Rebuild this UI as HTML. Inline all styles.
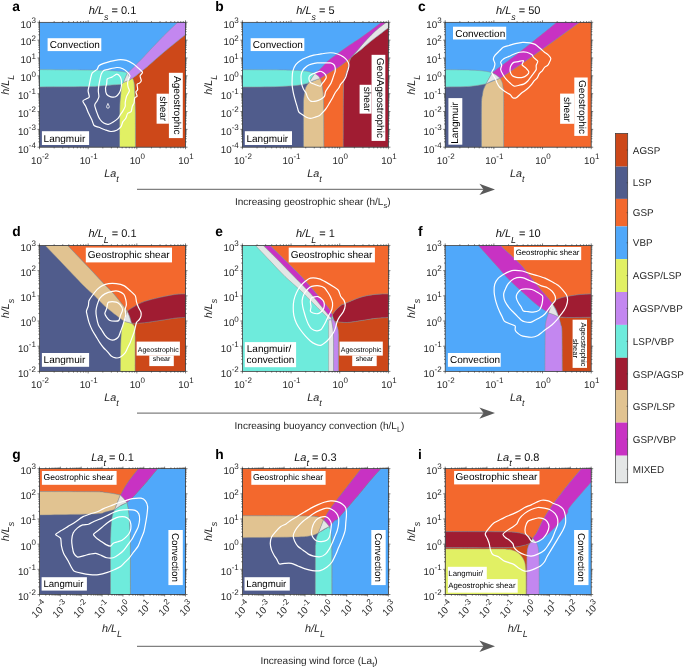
<!DOCTYPE html>
<html><head><meta charset="utf-8"><style>
html,body{margin:0;padding:0;background:#fff;width:685px;height:670px;overflow:hidden}
svg{display:block;font-family:"Liberation Sans",sans-serif;text-rendering:geometricPrecision;will-change:transform}
</style></head><body>
<svg width="685" height="670" viewBox="0 0 685 670">
<defs><clipPath id="c00"><rect x="39.50" y="22.30" width="146.00" height="124.90"/></clipPath><clipPath id="c10"><rect x="242.40" y="22.30" width="146.00" height="124.90"/></clipPath><clipPath id="c20"><rect x="445.20" y="22.30" width="146.00" height="124.90"/></clipPath><clipPath id="c01"><rect x="39.50" y="245.45" width="146.00" height="125.95"/></clipPath><clipPath id="c11"><rect x="242.40" y="245.45" width="146.00" height="125.95"/></clipPath><clipPath id="c21"><rect x="445.20" y="245.45" width="146.00" height="125.95"/></clipPath><clipPath id="c02"><rect x="39.50" y="468.65" width="146.00" height="125.85"/></clipPath><clipPath id="c12"><rect x="242.40" y="468.65" width="146.00" height="125.85"/></clipPath><clipPath id="c22"><rect x="445.20" y="468.65" width="146.00" height="125.85"/></clipPath></defs>
<g clip-path="url(#c00)">
<rect x="39.5" y="22.3" width="146.0" height="124.9" fill="#50A8FA"/>
<path d="M185.50,34.60 C178.63,40.17 171.10,46.12 164.90,51.30 C158.70,56.48 152.33,62.27 148.30,65.70 C144.27,69.13 143.32,69.82 140.70,71.90 C138.08,73.98 135.30,76.10 132.60,78.20 C132.87,78.97 133.13,79.50 133.40,80.50 C133.67,81.50 133.97,81.72 134.20,84.20 C134.43,86.68 134.62,90.77 134.80,95.40 C134.98,100.03 135.20,103.37 135.30,112.00 C135.40,120.63 135.37,135.47 135.40,147.20 L185.50,147.20 L185.50,34.60 Z" fill="#CD4819" stroke="#8c8c8c" stroke-width="0.45" stroke-linejoin="round"/>
<path d="M177.70,22.30 C174.47,25.37 171.05,28.52 168.00,31.50 C164.95,34.48 162.32,37.20 159.40,40.20 C156.48,43.20 153.28,46.53 150.50,49.50 C147.72,52.47 145.28,55.30 142.70,58.00 C140.12,60.70 137.03,63.67 135.00,65.70 C132.97,67.73 131.75,69.03 130.50,70.20 C129.25,71.37 128.50,71.87 127.50,72.70 C128.10,73.97 128.90,75.30 129.30,76.50 C129.70,77.70 129.70,78.77 129.90,79.90 L132.60,78.20 C135.30,76.10 138.08,73.98 140.70,71.90 C143.32,69.82 144.27,69.13 148.30,65.70 C152.33,62.27 160.45,55.08 164.90,51.30 C169.35,47.52 171.57,45.78 175.00,43.00 C178.43,40.22 182.00,37.40 185.50,34.60 L185.50,22.30 L177.70,22.30 Z" fill="#C387F0" stroke="#8c8c8c" stroke-width="0.45" stroke-linejoin="round"/>
<path d="M119.50,147.20 C119.53,135.47 119.50,119.87 119.60,112.00 C119.70,104.13 119.87,103.50 120.10,100.00 C120.33,96.50 120.75,93.60 121.00,91.00 C121.25,88.40 121.40,86.60 121.60,84.40 L123.40,82.40 L129.90,79.90 L132.60,78.20 C132.87,78.97 133.13,79.50 133.40,80.50 C133.67,81.50 133.97,81.72 134.20,84.20 C134.43,86.68 134.62,90.77 134.80,95.40 C134.98,100.03 135.20,103.37 135.30,112.00 C135.40,120.63 135.37,135.47 135.40,147.20 L119.50,147.20 Z" fill="#E1F064" stroke="#8c8c8c" stroke-width="0.45" stroke-linejoin="round"/>
<path d="M39.50,86.90 C56.33,86.77 79.92,86.65 90.00,86.50 C100.08,86.35 96.33,86.27 100.00,86.00 C103.67,85.73 108.40,85.17 112.00,84.90 C115.60,84.63 118.40,84.57 121.60,84.40 C121.40,86.60 121.25,88.40 121.00,91.00 C120.75,93.60 120.33,96.50 120.10,100.00 C119.87,103.50 119.70,104.13 119.60,112.00 C119.50,119.87 119.53,135.47 119.50,147.20 L39.50,147.20 L39.50,86.90 Z" fill="#505C8C" stroke="#8c8c8c" stroke-width="0.45" stroke-linejoin="round"/>
<path d="M39.50,69.60 C59.67,69.80 87.92,70.02 100.00,70.20 C112.08,70.38 108.67,70.52 112.00,70.70 C115.33,70.88 117.92,71.10 120.00,71.30 C122.08,71.50 123.25,71.67 124.50,71.90 C125.75,72.13 126.50,72.43 127.50,72.70 L123.40,82.40 L121.60,84.40 C118.40,84.57 115.60,84.63 112.00,84.90 C108.40,85.17 103.67,85.73 100.00,86.00 C96.33,86.27 100.08,86.35 90.00,86.50 C79.92,86.65 56.33,86.77 39.50,86.90 L39.50,69.60 Z" fill="#6EEBDC" stroke="#8c8c8c" stroke-width="0.45" stroke-linejoin="round"/>
<path d="M127.5,72.7 Q129.5,76 129.9,79.9 L123.4,82.4 Z" fill="#E4E6E6" stroke="#8c8c8c" stroke-width="0.45"/>
<path d="M118.00,59.80 C120.10,59.65 124.46,59.88 126.40,60.40 C128.34,60.92 132.01,63.04 133.50,64.00 C134.99,64.96 137.18,67.06 138.30,68.10 C139.43,69.14 142.28,71.32 142.50,72.30 C142.72,73.28 140.25,74.85 140.10,75.90 C139.95,76.95 141.38,79.80 141.30,80.70 C141.23,81.60 140.03,82.65 139.50,83.10 C138.97,83.55 137.32,83.49 137.10,84.30 C136.88,85.11 137.85,88.64 137.70,89.60 C137.55,90.56 135.97,91.17 135.90,92.00 C135.83,92.83 137.25,95.45 137.10,96.20 C136.95,96.95 135.07,97.17 134.70,98.00 C134.32,98.83 134.40,101.75 134.10,102.80 C133.80,103.85 132.68,105.29 132.30,106.40 C131.93,107.51 131.69,110.81 131.10,111.70 C130.51,112.59 128.26,112.67 127.60,113.50 C126.94,114.33 126.40,117.25 125.80,118.30 C125.20,119.35 123.40,120.85 122.80,121.90 C122.20,122.95 121.75,125.65 121.00,126.70 C120.25,127.75 118.08,129.70 116.80,130.30 C115.52,130.90 112.29,131.57 110.80,131.50 C109.31,131.43 106.39,130.22 104.90,129.70 C103.41,129.17 100.25,127.82 98.90,127.30 C97.55,126.78 95.00,126.47 94.10,125.50 C93.20,124.53 92.45,121.15 91.70,119.50 C90.95,117.85 88.84,113.94 88.10,112.30 C87.36,110.66 86.46,107.81 85.80,106.40 C85.14,104.99 82.66,101.97 82.80,101.00 C82.94,100.03 86.09,99.12 86.90,98.60 C87.71,98.07 89.15,97.77 89.30,96.80 C89.45,95.83 88.10,92.29 88.10,90.80 C88.10,89.31 89.00,86.39 89.30,84.90 C89.60,83.41 90.12,80.40 90.50,78.90 C90.88,77.40 91.47,74.10 92.30,72.90 C93.12,71.70 96.27,70.19 97.10,69.30 C97.92,68.41 98.08,66.54 98.90,65.80 C99.73,65.06 102.36,63.92 103.70,63.40 C105.04,62.88 107.81,62.05 109.60,61.60 C111.39,61.15 115.90,59.95 118.00,59.80 Z" fill="none" stroke="#fff" stroke-width="1.2" stroke-linejoin="round"/>
<path d="M116.80,67.50 C118.60,67.42 121.45,68.10 122.80,68.70 C124.15,69.30 126.70,71.40 127.60,72.30 C128.50,73.20 129.93,74.93 130.00,75.90 C130.07,76.88 128.50,79.12 128.20,80.10 C127.90,81.07 127.60,82.80 127.60,83.70 C127.60,84.60 127.97,86.41 128.20,87.30 C128.42,88.19 129.47,89.91 129.40,90.80 C129.33,91.69 127.97,93.65 127.60,94.40 C127.22,95.15 126.70,95.75 126.40,96.80 C126.10,97.85 125.35,101.60 125.20,102.80 C125.05,104.00 125.50,105.36 125.20,106.40 C124.90,107.44 123.40,110.06 122.80,111.10 C122.20,112.14 121.00,113.80 120.40,114.70 C119.80,115.60 118.90,117.40 118.00,118.30 C117.10,119.20 114.40,121.15 113.20,121.90 C112.00,122.65 109.59,124.15 108.40,124.30 C107.21,124.45 104.74,123.70 103.70,123.10 C102.66,122.50 100.85,120.55 100.10,119.50 C99.35,118.45 98.38,116.49 97.70,114.70 C97.03,112.91 94.78,106.91 94.70,105.20 C94.62,103.49 96.57,102.05 97.10,101.00 C97.62,99.95 98.75,98.08 98.90,96.80 C99.05,95.52 98.30,92.29 98.30,90.80 C98.30,89.31 98.68,86.39 98.90,84.90 C99.12,83.41 99.80,80.25 100.10,78.90 C100.40,77.55 100.85,75.15 101.30,74.10 C101.75,73.05 102.81,71.10 103.70,70.50 C104.59,69.90 106.76,69.67 108.40,69.30 C110.04,68.92 115.00,67.58 116.80,67.50 Z" fill="none" stroke="#fff" stroke-width="1.2" stroke-linejoin="round"/>
<path d="M116.80,74.10 C117.85,74.10 119.80,76.05 120.40,77.10 C121.00,78.15 121.52,81.09 121.60,82.50 C121.67,83.91 121.30,87.06 121.00,88.40 C120.70,89.74 119.88,92.15 119.20,93.20 C118.53,94.25 116.65,96.35 115.60,96.80 C114.55,97.25 111.91,97.10 110.80,96.80 C109.69,96.50 107.36,95.45 106.70,94.40 C106.04,93.35 105.50,89.74 105.50,88.40 C105.50,87.06 106.48,84.89 106.70,83.70 C106.92,82.51 106.64,79.73 107.30,78.90 C107.96,78.08 110.81,77.70 112.00,77.10 C113.19,76.50 115.75,74.10 116.80,74.10 Z" fill="none" stroke="#fff" stroke-width="1.2" stroke-linejoin="round"/>
<path d="M107.9,103.4 L109.3,106.6 Q109.5,108.2 107.9,108.2 Q106.4,108.2 106.6,106.6 Z" fill="none" stroke="#fff" stroke-width="0.8" stroke-linejoin="round"/>
</g>
<rect x="47.60" y="38.20" width="53.70" height="12.90" fill="#fff"/>
<text x="49.80" y="48.40" font-size="10" text-anchor="start" fill="#000">Convection</text>
<rect x="41.90" y="131.20" width="47.20" height="13.80" fill="#fff"/>
<text x="43.60" y="141.60" font-size="10" text-anchor="start" fill="#000">Langmuir</text>
<rect x="168.90" y="72.80" width="13.90" height="65.30" fill="#fff"/>
<rect x="156.60" y="93.70" width="12.30" height="30.00" fill="#fff"/>
<text x="173.90" y="105.30" font-size="10" text-anchor="middle" fill="#000" transform="rotate(90 173.90 105.30)">Ageostrophic</text>
<text x="160.10" y="108.70" font-size="10" text-anchor="middle" fill="#000" transform="rotate(90 160.10 108.70)">shear</text>
<path d="M39.50,147.20v2.0M39.50,22.30v-2.0M54.15,147.20v1.2M54.15,22.30v-1.2M62.72,147.20v1.2M62.72,22.30v-1.2M68.80,147.20v1.2M68.80,22.30v-1.2M73.52,147.20v1.2M73.52,22.30v-1.2M77.37,147.20v1.2M77.37,22.30v-1.2M80.63,147.20v1.2M80.63,22.30v-1.2M83.45,147.20v1.2M83.45,22.30v-1.2M85.94,147.20v1.2M85.94,22.30v-1.2M88.17,147.20v2.0M88.17,22.30v-2.0M102.82,147.20v1.2M102.82,22.30v-1.2M111.39,147.20v1.2M111.39,22.30v-1.2M117.47,147.20v1.2M117.47,22.30v-1.2M122.18,147.20v1.2M122.18,22.30v-1.2M126.04,147.20v1.2M126.04,22.30v-1.2M129.29,147.20v1.2M129.29,22.30v-1.2M132.12,147.20v1.2M132.12,22.30v-1.2M134.61,147.20v1.2M134.61,22.30v-1.2M136.83,147.20v2.0M136.83,22.30v-2.0M151.48,147.20v1.2M151.48,22.30v-1.2M160.05,147.20v1.2M160.05,22.30v-1.2M166.13,147.20v1.2M166.13,22.30v-1.2M170.85,147.20v1.2M170.85,22.30v-1.2M174.70,147.20v1.2M174.70,22.30v-1.2M177.96,147.20v1.2M177.96,22.30v-1.2M180.78,147.20v1.2M180.78,22.30v-1.2M183.27,147.20v1.2M183.27,22.30v-1.2M185.50,147.20v2.0M185.50,22.30v-2.0M39.50,147.20h-2.0M185.50,147.20h2.0M39.50,141.83h-1.2M185.50,141.83h1.2M39.50,138.69h-1.2M185.50,138.69h1.2M39.50,136.46h-1.2M185.50,136.46h1.2M39.50,134.73h-1.2M185.50,134.73h1.2M39.50,133.32h-1.2M185.50,133.32h1.2M39.50,132.12h-1.2M185.50,132.12h1.2M39.50,131.09h-1.2M185.50,131.09h1.2M39.50,130.17h-1.2M185.50,130.17h1.2M39.50,129.36h-2.0M185.50,129.36h2.0M39.50,123.99h-1.2M185.50,123.99h1.2M39.50,120.84h-1.2M185.50,120.84h1.2M39.50,118.61h-1.2M185.50,118.61h1.2M39.50,116.89h-1.2M185.50,116.89h1.2M39.50,115.47h-1.2M185.50,115.47h1.2M39.50,114.28h-1.2M185.50,114.28h1.2M39.50,113.24h-1.2M185.50,113.24h1.2M39.50,112.33h-1.2M185.50,112.33h1.2M39.50,111.51h-2.0M185.50,111.51h2.0M39.50,106.14h-1.2M185.50,106.14h1.2M39.50,103.00h-1.2M185.50,103.00h1.2M39.50,100.77h-1.2M185.50,100.77h1.2M39.50,99.04h-1.2M185.50,99.04h1.2M39.50,97.63h-1.2M185.50,97.63h1.2M39.50,96.44h-1.2M185.50,96.44h1.2M39.50,95.40h-1.2M185.50,95.40h1.2M39.50,94.49h-1.2M185.50,94.49h1.2M39.50,93.67h-2.0M185.50,93.67h2.0M39.50,88.30h-1.2M185.50,88.30h1.2M39.50,85.16h-1.2M185.50,85.16h1.2M39.50,82.93h-1.2M185.50,82.93h1.2M39.50,81.20h-1.2M185.50,81.20h1.2M39.50,79.79h-1.2M185.50,79.79h1.2M39.50,78.59h-1.2M185.50,78.59h1.2M39.50,77.56h-1.2M185.50,77.56h1.2M39.50,76.65h-1.2M185.50,76.65h1.2M39.50,75.83h-2.0M185.50,75.83h2.0M39.50,70.46h-1.2M185.50,70.46h1.2M39.50,67.32h-1.2M185.50,67.32h1.2M39.50,65.09h-1.2M185.50,65.09h1.2M39.50,63.36h-1.2M185.50,63.36h1.2M39.50,61.94h-1.2M185.50,61.94h1.2M39.50,60.75h-1.2M185.50,60.75h1.2M39.50,59.71h-1.2M185.50,59.71h1.2M39.50,58.80h-1.2M185.50,58.80h1.2M39.50,57.99h-2.0M185.50,57.99h2.0M39.50,52.61h-1.2M185.50,52.61h1.2M39.50,49.47h-1.2M185.50,49.47h1.2M39.50,47.24h-1.2M185.50,47.24h1.2M39.50,45.51h-1.2M185.50,45.51h1.2M39.50,44.10h-1.2M185.50,44.10h1.2M39.50,42.91h-1.2M185.50,42.91h1.2M39.50,41.87h-1.2M185.50,41.87h1.2M39.50,40.96h-1.2M185.50,40.96h1.2M39.50,40.14h-2.0M185.50,40.14h2.0M39.50,34.77h-1.2M185.50,34.77h1.2M39.50,31.63h-1.2M185.50,31.63h1.2M39.50,29.40h-1.2M185.50,29.40h1.2M39.50,27.67h-1.2M185.50,27.67h1.2M39.50,26.26h-1.2M185.50,26.26h1.2M39.50,25.06h-1.2M185.50,25.06h1.2M39.50,24.03h-1.2M185.50,24.03h1.2M39.50,23.12h-1.2M185.50,23.12h1.2M39.50,22.30h-2.0M185.50,22.30h2.0" stroke="#262626" stroke-width="0.6" fill="none"/>
<rect x="39.50" y="22.30" width="146.00" height="124.90" fill="none" stroke="#262626" stroke-width="0.7"/>
<text x="17.89" y="152.55" font-size="9.8" fill="#262626">10<tspan font-size="8.00" dy="-4.6">-4</tspan></text>
<text x="17.89" y="134.71" font-size="9.8" fill="#262626">10<tspan font-size="8.00" dy="-4.6">-3</tspan></text>
<text x="17.89" y="116.86" font-size="9.8" fill="#262626">10<tspan font-size="8.00" dy="-4.6">-2</tspan></text>
<text x="17.89" y="99.02" font-size="9.8" fill="#262626">10<tspan font-size="8.00" dy="-4.6">-1</tspan></text>
<text x="20.55" y="81.18" font-size="9.8" fill="#262626">10<tspan font-size="8.00" dy="-4.6">0</tspan></text>
<text x="20.55" y="63.34" font-size="9.8" fill="#262626">10<tspan font-size="8.00" dy="-4.6">1</tspan></text>
<text x="20.55" y="45.49" font-size="9.8" fill="#262626">10<tspan font-size="8.00" dy="-4.6">2</tspan></text>
<text x="20.55" y="27.65" font-size="9.8" fill="#262626">10<tspan font-size="8.00" dy="-4.6">3</tspan></text>
<text x="31.00" y="163.80" font-size="9.8" fill="#262626">10<tspan font-size="8.00" dy="-5.0">-2</tspan></text>
<text x="79.66" y="163.80" font-size="9.8" fill="#262626">10<tspan font-size="8.00" dy="-5.0">-1</tspan></text>
<text x="129.66" y="163.80" font-size="9.8" fill="#262626">10<tspan font-size="8.00" dy="-5.0">0</tspan></text>
<text x="178.33" y="163.80" font-size="9.8" fill="#262626">10<tspan font-size="8.00" dy="-5.0">1</tspan></text>
<text x="111.50" y="176.50" font-size="10.8" font-style="italic" fill="#262626" text-anchor="middle">La<tspan font-size="9" dy="5">t</tspan></text>
<text x="0" y="0" font-size="10.8" font-style="italic" fill="#262626" text-anchor="middle" transform="translate(8.90,84.75) rotate(-90)">h/L<tspan font-size="9" dy="5">L</tspan></text>
<text x="112.50" y="14.20" font-size="11" fill="#111" text-anchor="middle"><tspan font-style="italic">h/L</tspan><tspan font-style="italic" font-size="8.8" dy="5.5">s</tspan><tspan dy="-5.5"> = 0.1</tspan></text>
<text x="12.30" y="11.00" font-size="13.8" font-weight="bold" fill="#000">a</text>
<g clip-path="url(#c10)">
<rect x="242.4" y="22.3" width="146.0" height="124.9" fill="#50A8FA"/>
<path d="M388.40,27.80 C385.60,29.93 383.08,31.85 380.00,34.20 C376.92,36.55 373.08,39.32 369.90,41.90 C366.72,44.48 363.60,47.50 360.90,49.70 C358.20,51.90 355.35,53.78 353.70,55.10 C352.05,56.42 351.90,56.77 351.00,57.60 C350.47,58.90 350.02,59.60 349.40,61.50 C348.78,63.40 348.03,66.48 347.30,69.00 C346.57,71.52 345.65,73.43 345.00,76.60 C344.35,79.77 343.72,76.23 343.40,88.00 C343.08,99.77 343.20,127.47 343.10,147.20 L388.40,147.20 L388.40,27.80 Z" fill="#A01C32" stroke="#8c8c8c" stroke-width="0.45" stroke-linejoin="round"/>
<path d="M386.30,22.30 L388.40,22.30 L388.40,27.80 C385.60,29.93 383.08,31.85 380.00,34.20 C376.92,36.55 373.08,39.32 369.90,41.90 C366.72,44.48 363.60,47.50 360.90,49.70 C358.20,51.90 355.35,53.78 353.70,55.10 C352.05,56.42 351.90,56.77 351.00,57.60 C351.30,57.17 350.75,57.62 351.90,56.30 C353.05,54.98 355.50,52.40 357.90,49.70 C360.30,47.00 363.22,43.38 366.30,40.10 C369.38,36.82 373.07,32.97 376.40,30.00 C379.73,27.03 383.00,24.87 386.30,22.30 Z" fill="#E4E6E6" stroke="#8c8c8c" stroke-width="0.45" stroke-linejoin="round"/>
<path d="M323.80,147.20 C323.70,131.47 323.72,109.72 323.50,100.00 C323.28,90.28 322.82,91.75 322.50,88.90 C322.18,86.05 322.02,84.65 321.60,82.90 C321.18,81.15 320.53,79.90 320.00,78.40 C322.63,76.73 324.58,75.43 327.90,73.40 C331.22,71.37 336.88,68.17 339.90,66.20 C342.92,64.23 344.15,63.03 346.00,61.60 C347.85,60.17 349.33,58.93 351.00,57.60 C350.47,58.90 350.02,59.60 349.40,61.50 C348.78,63.40 348.03,66.48 347.30,69.00 C346.57,71.52 345.65,73.43 345.00,76.60 C344.35,79.77 343.72,76.23 343.40,88.00 C343.08,99.77 343.20,127.47 343.10,147.20 L323.80,147.20 Z" fill="#F3682D" stroke="#8c8c8c" stroke-width="0.45" stroke-linejoin="round"/>
<path d="M314.80,73.50 C316.87,71.73 318.82,70.30 321.00,68.20 C323.18,66.10 324.75,63.62 327.90,60.90 C331.05,58.18 336.22,54.58 339.90,51.90 C343.58,49.22 346.65,47.08 350.00,44.80 C353.35,42.52 356.50,40.63 360.00,38.20 C363.50,35.77 367.43,32.85 371.00,30.20 C374.57,27.55 377.93,24.93 381.40,22.30 L386.30,22.30 C383.00,24.87 379.73,27.03 376.40,30.00 C373.07,32.97 369.38,36.82 366.30,40.10 C363.22,43.38 360.30,47.00 357.90,49.70 C355.50,52.40 353.05,54.98 351.90,56.30 C350.75,57.62 351.30,57.17 351.00,57.60 C349.33,58.93 347.85,60.17 346.00,61.60 C344.15,63.03 342.92,64.23 339.90,66.20 C336.88,68.17 331.22,71.37 327.90,73.40 C324.58,75.43 322.63,76.73 320.00,78.40 C319.17,77.43 318.37,76.32 317.50,75.50 C316.63,74.68 315.70,74.17 314.80,73.50 Z" fill="#C832C3" stroke="#8c8c8c" stroke-width="0.45" stroke-linejoin="round"/>
<path d="M303.40,147.20 C303.40,133.13 303.30,113.53 303.40,105.00 C303.50,96.47 303.75,98.48 304.00,96.00 C304.25,93.52 304.55,91.68 304.90,90.10 C305.25,88.52 305.50,87.70 306.10,86.50 C306.70,85.30 307.70,84.10 308.50,82.90 L320.00,78.40 C320.53,79.90 321.18,81.15 321.60,82.90 C322.02,84.65 322.18,86.05 322.50,88.90 C322.82,91.75 323.28,90.28 323.50,100.00 C323.72,109.72 323.70,131.47 323.80,147.20 L303.40,147.20 Z" fill="#E1C391" stroke="#8c8c8c" stroke-width="0.45" stroke-linejoin="round"/>
<path d="M242.40,87.00 C248.27,86.97 253.73,86.98 260.00,86.90 C266.27,86.82 274.17,86.72 280.00,86.50 C285.83,86.28 291.33,85.92 295.00,85.60 C298.67,85.28 299.75,85.05 302.00,84.60 C304.25,84.15 306.33,83.47 308.50,82.90 C307.70,84.10 306.70,85.30 306.10,86.50 C305.50,87.70 305.25,88.52 304.90,90.10 C304.55,91.68 304.25,93.52 304.00,96.00 C303.75,98.48 303.50,96.47 303.40,105.00 C303.30,113.53 303.40,133.13 303.40,147.20 L242.40,147.20 L242.40,87.00 Z" fill="#505C8C" stroke="#8c8c8c" stroke-width="0.45" stroke-linejoin="round"/>
<path d="M242.40,69.70 C254.93,69.77 271.23,69.80 280.00,69.90 C288.77,70.00 291.17,70.15 295.00,70.30 C298.83,70.45 300.67,70.57 303.00,70.80 C305.33,71.03 307.03,71.25 309.00,71.70 C310.97,72.15 312.87,72.90 314.80,73.50 L308.50,82.90 C306.33,83.47 304.25,84.15 302.00,84.60 C299.75,85.05 298.67,85.28 295.00,85.60 C291.33,85.92 285.83,86.28 280.00,86.50 C274.17,86.72 266.27,86.82 260.00,86.90 C253.73,86.98 248.27,86.97 242.40,87.00 L242.40,69.70 Z" fill="#6EEBDC" stroke="#8c8c8c" stroke-width="0.45" stroke-linejoin="round"/>
<path d="M314.8,73.5 Q318.6,75.4 320,78.4 Q313.8,80.2 308.5,82.9 Z" fill="#E4E6E6" stroke="#8c8c8c" stroke-width="0.45"/>
<path d="M330.39,52.76 C332.49,52.76 335.92,53.44 337.56,53.96 C339.20,54.48 342.34,56.12 343.54,56.95 C344.73,57.77 346.45,59.56 347.12,60.53 C347.79,61.50 348.76,63.67 348.91,64.71 C349.06,65.76 348.54,67.92 348.31,68.89 C348.09,69.86 347.42,71.51 347.12,72.48 C346.82,73.45 346.37,75.61 345.92,76.66 C345.48,77.70 344.21,79.87 343.54,80.84 C342.86,81.81 341.15,83.53 340.55,84.42 C339.95,85.32 339.43,86.96 338.76,88.01 C338.09,89.05 335.92,91.59 335.17,92.78 C334.43,93.98 333.53,96.22 332.78,97.56 C332.04,98.91 330.02,102.19 329.20,103.54 C328.38,104.88 326.96,107.27 326.21,108.31 C325.47,109.36 324.05,111.00 323.23,111.90 C322.41,112.79 320.69,114.81 319.64,115.48 C318.60,116.15 316.06,116.90 314.87,117.27 C313.67,117.65 311.28,118.54 310.09,118.47 C308.89,118.39 306.35,117.20 305.31,116.68 C304.26,116.15 302.55,114.88 301.72,114.29 C300.90,113.69 299.34,112.94 298.74,111.90 C298.14,110.85 297.39,107.42 296.95,105.92 C296.50,104.43 295.60,101.59 295.15,99.95 C294.71,98.31 293.74,94.58 293.36,92.78 C292.99,90.99 292.32,87.41 292.17,85.62 C292.02,83.82 292.09,80.24 292.17,78.45 C292.24,76.66 292.32,73.00 292.76,71.28 C293.21,69.56 294.78,66.05 295.75,64.71 C296.72,63.37 299.19,61.43 300.53,60.53 C301.87,59.63 304.86,58.22 306.50,57.54 C308.15,56.87 311.88,55.60 313.67,55.15 C315.46,54.71 318.75,54.26 320.84,53.96 C322.93,53.66 328.30,52.76 330.39,52.76 Z" fill="none" stroke="#fff" stroke-width="1.2" stroke-linejoin="round"/>
<path d="M317.25,62.92 C318.75,62.77 321.58,62.92 323.23,62.92 C324.87,62.92 329.05,62.70 330.39,62.92 C331.74,63.14 333.38,64.11 333.98,64.71 C334.58,65.31 335.02,66.88 335.17,67.70 C335.32,68.52 335.32,70.39 335.17,71.28 C335.02,72.18 334.28,73.97 333.98,74.87 C333.68,75.76 333.16,77.40 332.78,78.45 C332.41,79.49 331.51,82.18 330.99,83.23 C330.47,84.27 329.27,85.77 328.60,86.81 C327.93,87.86 326.14,90.39 325.62,91.59 C325.09,92.78 325.02,95.40 324.42,96.37 C323.82,97.34 321.88,98.76 320.84,99.35 C319.79,99.95 317.33,100.92 316.06,101.15 C314.79,101.37 311.73,101.59 310.68,101.15 C309.64,100.70 308.29,98.61 307.70,97.56 C307.10,96.52 306.43,93.83 305.91,92.78 C305.38,91.74 304.04,90.25 303.52,89.20 C302.99,88.15 302.02,85.62 301.72,84.42 C301.43,83.23 301.20,80.84 301.13,79.64 C301.05,78.45 300.90,76.06 301.13,74.87 C301.35,73.67 302.17,71.21 302.92,70.09 C303.67,68.97 306.05,66.65 307.10,65.91 C308.15,65.16 310.01,64.49 311.28,64.11 C312.55,63.74 315.76,63.07 317.25,62.92 Z" fill="none" stroke="#fff" stroke-width="1.2" stroke-linejoin="round"/>
<path d="M314.87,73.07 C315.84,72.70 318.60,71.36 319.64,71.28 C320.69,71.21 322.48,72.03 323.23,72.48 C323.97,72.92 325.24,74.19 325.62,74.87 C325.99,75.54 326.36,77.10 326.21,77.85 C326.06,78.60 324.94,80.09 324.42,80.84 C323.90,81.58 322.56,83.15 322.03,83.82 C321.51,84.50 320.91,86.06 320.24,86.21 C319.57,86.36 317.55,85.32 316.66,85.02 C315.76,84.72 313.89,84.20 313.07,83.82 C312.25,83.45 310.61,82.63 310.09,82.03 C309.56,81.44 308.97,79.79 308.89,79.05 C308.82,78.30 309.12,76.66 309.49,76.06 C309.86,75.46 311.21,74.64 311.88,74.27 C312.55,73.89 313.89,73.45 314.87,73.07 Z" fill="none" stroke="#fff" stroke-width="1.2" stroke-linejoin="round"/>
</g>
<rect x="250.65" y="38.19" width="53.69" height="12.87" fill="#fff"/>
<text x="252.85" y="48.36" font-size="10" text-anchor="start" fill="#000">Convection</text>
<rect x="244.80" y="131.20" width="47.20" height="13.80" fill="#fff"/>
<text x="246.50" y="141.60" font-size="10" text-anchor="start" fill="#000">Langmuir</text>
<rect x="371.57" y="54.83" width="13.76" height="86.09" fill="#fff"/>
<rect x="359.59" y="84.79" width="11.98" height="28.84" fill="#fff"/>
<text x="376.90" y="97.88" font-size="10" text-anchor="middle" fill="#000" transform="rotate(90 376.90 97.88)">Geo/Ageostrophic</text>
<text x="363.60" y="99.21" font-size="10" text-anchor="middle" fill="#000" transform="rotate(90 363.60 99.21)">shear</text>
<path d="M242.40,147.20v2.0M242.40,22.30v-2.0M257.05,147.20v1.2M257.05,22.30v-1.2M265.62,147.20v1.2M265.62,22.30v-1.2M271.70,147.20v1.2M271.70,22.30v-1.2M276.42,147.20v1.2M276.42,22.30v-1.2M280.27,147.20v1.2M280.27,22.30v-1.2M283.53,147.20v1.2M283.53,22.30v-1.2M286.35,147.20v1.2M286.35,22.30v-1.2M288.84,147.20v1.2M288.84,22.30v-1.2M291.07,147.20v2.0M291.07,22.30v-2.0M305.72,147.20v1.2M305.72,22.30v-1.2M314.29,147.20v1.2M314.29,22.30v-1.2M320.37,147.20v1.2M320.37,22.30v-1.2M325.08,147.20v1.2M325.08,22.30v-1.2M328.94,147.20v1.2M328.94,22.30v-1.2M332.19,147.20v1.2M332.19,22.30v-1.2M335.02,147.20v1.2M335.02,22.30v-1.2M337.51,147.20v1.2M337.51,22.30v-1.2M339.73,147.20v2.0M339.73,22.30v-2.0M354.38,147.20v1.2M354.38,22.30v-1.2M362.95,147.20v1.2M362.95,22.30v-1.2M369.03,147.20v1.2M369.03,22.30v-1.2M373.75,147.20v1.2M373.75,22.30v-1.2M377.60,147.20v1.2M377.60,22.30v-1.2M380.86,147.20v1.2M380.86,22.30v-1.2M383.68,147.20v1.2M383.68,22.30v-1.2M386.17,147.20v1.2M386.17,22.30v-1.2M388.40,147.20v2.0M388.40,22.30v-2.0M242.40,147.20h-2.0M388.40,147.20h2.0M242.40,141.83h-1.2M388.40,141.83h1.2M242.40,138.69h-1.2M388.40,138.69h1.2M242.40,136.46h-1.2M388.40,136.46h1.2M242.40,134.73h-1.2M388.40,134.73h1.2M242.40,133.32h-1.2M388.40,133.32h1.2M242.40,132.12h-1.2M388.40,132.12h1.2M242.40,131.09h-1.2M388.40,131.09h1.2M242.40,130.17h-1.2M388.40,130.17h1.2M242.40,129.36h-2.0M388.40,129.36h2.0M242.40,123.99h-1.2M388.40,123.99h1.2M242.40,120.84h-1.2M388.40,120.84h1.2M242.40,118.61h-1.2M388.40,118.61h1.2M242.40,116.89h-1.2M388.40,116.89h1.2M242.40,115.47h-1.2M388.40,115.47h1.2M242.40,114.28h-1.2M388.40,114.28h1.2M242.40,113.24h-1.2M388.40,113.24h1.2M242.40,112.33h-1.2M388.40,112.33h1.2M242.40,111.51h-2.0M388.40,111.51h2.0M242.40,106.14h-1.2M388.40,106.14h1.2M242.40,103.00h-1.2M388.40,103.00h1.2M242.40,100.77h-1.2M388.40,100.77h1.2M242.40,99.04h-1.2M388.40,99.04h1.2M242.40,97.63h-1.2M388.40,97.63h1.2M242.40,96.44h-1.2M388.40,96.44h1.2M242.40,95.40h-1.2M388.40,95.40h1.2M242.40,94.49h-1.2M388.40,94.49h1.2M242.40,93.67h-2.0M388.40,93.67h2.0M242.40,88.30h-1.2M388.40,88.30h1.2M242.40,85.16h-1.2M388.40,85.16h1.2M242.40,82.93h-1.2M388.40,82.93h1.2M242.40,81.20h-1.2M388.40,81.20h1.2M242.40,79.79h-1.2M388.40,79.79h1.2M242.40,78.59h-1.2M388.40,78.59h1.2M242.40,77.56h-1.2M388.40,77.56h1.2M242.40,76.65h-1.2M388.40,76.65h1.2M242.40,75.83h-2.0M388.40,75.83h2.0M242.40,70.46h-1.2M388.40,70.46h1.2M242.40,67.32h-1.2M388.40,67.32h1.2M242.40,65.09h-1.2M388.40,65.09h1.2M242.40,63.36h-1.2M388.40,63.36h1.2M242.40,61.94h-1.2M388.40,61.94h1.2M242.40,60.75h-1.2M388.40,60.75h1.2M242.40,59.71h-1.2M388.40,59.71h1.2M242.40,58.80h-1.2M388.40,58.80h1.2M242.40,57.99h-2.0M388.40,57.99h2.0M242.40,52.61h-1.2M388.40,52.61h1.2M242.40,49.47h-1.2M388.40,49.47h1.2M242.40,47.24h-1.2M388.40,47.24h1.2M242.40,45.51h-1.2M388.40,45.51h1.2M242.40,44.10h-1.2M388.40,44.10h1.2M242.40,42.91h-1.2M388.40,42.91h1.2M242.40,41.87h-1.2M388.40,41.87h1.2M242.40,40.96h-1.2M388.40,40.96h1.2M242.40,40.14h-2.0M388.40,40.14h2.0M242.40,34.77h-1.2M388.40,34.77h1.2M242.40,31.63h-1.2M388.40,31.63h1.2M242.40,29.40h-1.2M388.40,29.40h1.2M242.40,27.67h-1.2M388.40,27.67h1.2M242.40,26.26h-1.2M388.40,26.26h1.2M242.40,25.06h-1.2M388.40,25.06h1.2M242.40,24.03h-1.2M388.40,24.03h1.2M242.40,23.12h-1.2M388.40,23.12h1.2M242.40,22.30h-2.0M388.40,22.30h2.0" stroke="#262626" stroke-width="0.6" fill="none"/>
<rect x="242.40" y="22.30" width="146.00" height="124.90" fill="none" stroke="#262626" stroke-width="0.7"/>
<text x="220.79" y="152.55" font-size="9.8" fill="#262626">10<tspan font-size="8.00" dy="-4.6">-4</tspan></text>
<text x="220.79" y="134.71" font-size="9.8" fill="#262626">10<tspan font-size="8.00" dy="-4.6">-3</tspan></text>
<text x="220.79" y="116.86" font-size="9.8" fill="#262626">10<tspan font-size="8.00" dy="-4.6">-2</tspan></text>
<text x="220.79" y="99.02" font-size="9.8" fill="#262626">10<tspan font-size="8.00" dy="-4.6">-1</tspan></text>
<text x="223.45" y="81.18" font-size="9.8" fill="#262626">10<tspan font-size="8.00" dy="-4.6">0</tspan></text>
<text x="223.45" y="63.34" font-size="9.8" fill="#262626">10<tspan font-size="8.00" dy="-4.6">1</tspan></text>
<text x="223.45" y="45.49" font-size="9.8" fill="#262626">10<tspan font-size="8.00" dy="-4.6">2</tspan></text>
<text x="223.45" y="27.65" font-size="9.8" fill="#262626">10<tspan font-size="8.00" dy="-4.6">3</tspan></text>
<text x="233.90" y="163.80" font-size="9.8" fill="#262626">10<tspan font-size="8.00" dy="-5.0">-2</tspan></text>
<text x="282.56" y="163.80" font-size="9.8" fill="#262626">10<tspan font-size="8.00" dy="-5.0">-1</tspan></text>
<text x="332.56" y="163.80" font-size="9.8" fill="#262626">10<tspan font-size="8.00" dy="-5.0">0</tspan></text>
<text x="381.23" y="163.80" font-size="9.8" fill="#262626">10<tspan font-size="8.00" dy="-5.0">1</tspan></text>
<text x="314.40" y="176.50" font-size="10.8" font-style="italic" fill="#262626" text-anchor="middle">La<tspan font-size="9" dy="5">t</tspan></text>
<text x="0" y="0" font-size="10.8" font-style="italic" fill="#262626" text-anchor="middle" transform="translate(211.80,84.75) rotate(-90)">h/L<tspan font-size="9" dy="5">L</tspan></text>
<text x="315.40" y="14.20" font-size="11" fill="#111" text-anchor="middle"><tspan font-style="italic">h/L</tspan><tspan font-style="italic" font-size="8.8" dy="5.5">s</tspan><tspan dy="-5.5"> = 5</tspan></text>
<text x="215.20" y="11.00" font-size="13.8" font-weight="bold" fill="#000">b</text>
<g clip-path="url(#c20)">
<rect x="445.2" y="22.3" width="146.0" height="124.9" fill="#50A8FA"/>
<path d="M503.60,147.20 C503.60,130.13 503.73,106.20 503.60,96.00 C503.47,85.80 503.40,88.95 502.80,86.00 C502.20,83.05 500.93,80.87 500.00,78.30 C504.00,75.63 507.75,73.17 512.00,70.30 C516.25,67.43 519.83,65.05 525.50,61.10 C531.17,57.15 539.58,51.18 546.00,46.60 C552.42,42.02 558.42,37.65 564.00,33.60 C569.58,29.55 574.33,26.07 579.50,22.30 L591.20,22.30 L591.20,147.20 L503.60,147.20 Z" fill="#F3682D" stroke="#8c8c8c" stroke-width="0.45" stroke-linejoin="round"/>
<path d="M492.20,72.70 C495.80,69.97 499.30,67.27 503.00,64.50 C506.70,61.73 509.55,59.82 514.40,56.10 C519.25,52.38 526.83,46.37 532.10,42.20 C537.37,38.03 541.92,34.42 546.00,31.10 C550.08,27.78 553.07,25.23 556.60,22.30 L579.50,22.30 C574.33,26.07 569.58,29.55 564.00,33.60 C558.42,37.65 552.42,42.02 546.00,46.60 C539.58,51.18 531.17,57.15 525.50,61.10 C519.83,65.05 516.25,67.43 512.00,70.30 C507.75,73.17 504.00,75.63 500.00,78.30 C498.83,77.27 497.80,76.13 496.50,75.20 C495.20,74.27 493.63,73.53 492.20,72.70 Z" fill="#C832C3" stroke="#8c8c8c" stroke-width="0.45" stroke-linejoin="round"/>
<path d="M481.40,147.20 C481.40,133.13 481.23,113.75 481.40,105.00 C481.57,96.25 482.03,97.37 482.40,94.70 C482.77,92.03 482.98,90.82 483.60,89.00 C484.22,87.18 485.27,85.53 486.10,83.80 L500.00,78.30 C500.67,79.53 501.53,80.72 502.00,82.00 C502.47,83.28 502.53,83.67 502.80,86.00 C503.07,88.33 503.47,85.80 503.60,96.00 C503.73,106.20 503.60,130.13 503.60,147.20 L481.40,147.20 Z" fill="#E1C391" stroke="#8c8c8c" stroke-width="0.45" stroke-linejoin="round"/>
<path d="M445.20,87.00 C451.80,86.87 460.03,86.82 465.00,86.60 C469.97,86.38 472.33,86.00 475.00,85.70 C477.67,85.40 479.15,85.12 481.00,84.80 C482.85,84.48 484.40,84.13 486.10,83.80 C485.27,85.53 484.22,87.18 483.60,89.00 C482.98,90.82 482.77,92.03 482.40,94.70 C482.03,97.37 481.57,96.25 481.40,105.00 C481.23,113.75 481.40,133.13 481.40,147.20 L445.20,147.20 L445.20,87.00 Z" fill="#505C8C" stroke="#8c8c8c" stroke-width="0.45" stroke-linejoin="round"/>
<path d="M445.20,69.70 C451.80,69.77 460.03,69.80 465.00,69.90 C469.97,70.00 472.00,70.13 475.00,70.30 C478.00,70.47 480.83,70.67 483.00,70.90 C485.17,71.13 486.47,71.40 488.00,71.70 C489.53,72.00 490.80,72.37 492.20,72.70 L486.10,83.80 C484.40,84.13 482.85,84.48 481.00,84.80 C479.15,85.12 477.67,85.40 475.00,85.70 C472.33,86.00 469.97,86.38 465.00,86.60 C460.03,86.82 451.80,86.87 445.20,87.00 L445.20,69.70 Z" fill="#6EEBDC" stroke="#8c8c8c" stroke-width="0.45" stroke-linejoin="round"/>
<path d="M492.2,72.7 Q497,75 500,78.3 Q492.5,80.2 486.1,83.8 Z" fill="#E4E6E6" stroke="#8c8c8c" stroke-width="0.45"/>
<path d="M522.61,42.31 C524.44,42.22 528.36,42.57 529.93,42.84 C531.49,43.10 533.85,43.69 535.15,44.40 C536.46,45.12 539.20,47.60 540.38,48.58 C541.55,49.56 543.58,51.46 544.55,52.24 C545.53,53.02 547.43,54.07 548.21,54.85 C549.00,55.64 550.69,57.53 550.82,58.51 C550.95,59.49 549.65,61.84 549.26,62.69 C548.86,63.54 548.28,64.71 547.69,65.30 C547.10,65.89 545.21,66.74 544.55,67.39 C543.90,68.04 543.12,69.74 542.47,70.52 C541.81,71.31 539.98,72.74 539.33,73.66 C538.68,74.57 537.89,76.92 537.24,77.84 C536.59,78.75 534.89,80.06 534.11,80.97 C533.32,81.89 531.89,84.11 530.97,85.15 C530.06,86.20 527.97,88.35 526.79,89.33 C525.62,90.31 522.87,91.94 521.57,92.99 C520.26,94.03 517.45,97.10 516.34,97.69 C515.23,98.28 513.47,98.08 512.69,97.69 C511.90,97.30 511.06,95.34 510.08,94.55 C509.10,93.77 506.16,92.33 504.85,91.42 C503.55,90.51 500.61,88.29 499.63,87.24 C498.65,86.20 497.54,84.11 497.02,83.06 C496.49,82.02 496.10,80.19 495.45,78.88 C494.80,77.58 491.99,73.92 491.79,72.61 C491.60,71.31 493.49,69.54 493.88,68.43 C494.27,67.32 494.99,64.91 494.93,63.73 C494.86,62.56 493.36,60.08 493.36,59.03 C493.36,57.99 494.21,56.35 494.93,55.37 C495.64,54.39 498.06,52.20 499.11,51.19 C500.15,50.19 502.04,48.05 503.28,47.33 C504.53,46.61 507.53,45.92 509.03,45.45 C510.53,44.98 513.60,43.96 515.30,43.57 C517.00,43.18 520.79,42.41 522.61,42.31 Z" fill="none" stroke="#fff" stroke-width="1.2" stroke-linejoin="round"/>
<path d="M519.48,52.24 C521.05,52.02 525.23,51.91 526.79,52.24 C528.36,52.57 531.17,54.20 532.02,54.85 C532.87,55.50 532.87,56.68 533.58,57.46 C534.30,58.25 537.44,60.14 537.76,61.12 C538.09,62.10 536.39,64.26 536.20,65.30 C536.00,66.34 536.46,68.56 536.20,69.48 C535.94,70.39 534.76,71.70 534.11,72.61 C533.45,73.53 531.76,75.75 530.97,76.79 C530.19,77.84 528.75,80.06 527.84,80.97 C526.92,81.89 524.70,83.58 523.66,84.11 C522.61,84.63 520.65,84.89 519.48,85.15 C518.30,85.41 515.43,86.46 514.26,86.20 C513.08,85.94 511.12,83.98 510.08,83.06 C509.03,82.15 506.81,79.99 505.90,78.88 C504.98,77.77 503.42,75.36 502.76,74.18 C502.11,73.01 500.80,70.59 500.67,69.48 C500.54,68.37 501.72,66.21 501.72,65.30 C501.72,64.39 500.41,62.98 500.67,62.17 C500.93,61.36 502.76,59.54 503.81,58.82 C504.85,58.10 507.72,57.02 509.03,56.42 C510.34,55.82 512.95,54.54 514.26,54.02 C515.56,53.49 517.91,52.46 519.48,52.24 Z" fill="none" stroke="#fff" stroke-width="1.2" stroke-linejoin="round"/>
<path d="M513.73,62.37 C514.58,62.02 517.22,61.87 518.43,61.64 C519.65,61.42 522.99,60.21 523.45,60.60 C523.91,60.99 521.80,63.86 522.09,64.78 C522.38,65.69 524.90,67.00 525.75,67.91 C526.60,68.83 528.75,71.18 528.88,72.09 C529.01,73.01 527.58,74.57 526.79,75.23 C526.01,75.88 523.92,77.05 522.61,77.32 C521.31,77.58 517.62,77.51 516.34,77.32 C515.06,77.12 513.13,76.44 512.37,75.75 C511.62,75.06 510.55,72.82 510.28,71.78 C510.02,70.73 510.11,68.30 510.28,67.39 C510.45,66.48 511.21,65.09 511.64,64.46 C512.07,63.84 512.88,62.73 513.73,62.37 Z" fill="none" stroke="#fff" stroke-width="1.2" stroke-linejoin="round"/>
</g>
<rect x="453.00" y="26.70" width="53.20" height="12.80" fill="#fff"/>
<text x="455.20" y="37.00" font-size="10" text-anchor="start" fill="#000">Convection</text>
<rect x="448.40" y="98.10" width="13.90" height="46.60" fill="#fff"/>
<text x="457.60" y="122.90" font-size="10" text-anchor="middle" fill="#000" transform="rotate(-90 457.60 122.90)">Langmuir</text>
<rect x="574.30" y="77.50" width="13.40" height="58.40" fill="#fff"/>
<rect x="560.10" y="93.60" width="14.40" height="30.20" fill="#fff"/>
<text x="579.30" y="107.00" font-size="10" text-anchor="middle" fill="#000" transform="rotate(90 579.30 107.00)">Geostrophic</text>
<text x="564.20" y="109.40" font-size="10" text-anchor="middle" fill="#000" transform="rotate(90 564.20 109.40)">shear</text>
<path d="M445.20,147.20v2.0M445.20,22.30v-2.0M459.85,147.20v1.2M459.85,22.30v-1.2M468.42,147.20v1.2M468.42,22.30v-1.2M474.50,147.20v1.2M474.50,22.30v-1.2M479.22,147.20v1.2M479.22,22.30v-1.2M483.07,147.20v1.2M483.07,22.30v-1.2M486.33,147.20v1.2M486.33,22.30v-1.2M489.15,147.20v1.2M489.15,22.30v-1.2M491.64,147.20v1.2M491.64,22.30v-1.2M493.87,147.20v2.0M493.87,22.30v-2.0M508.52,147.20v1.2M508.52,22.30v-1.2M517.09,147.20v1.2M517.09,22.30v-1.2M523.17,147.20v1.2M523.17,22.30v-1.2M527.88,147.20v1.2M527.88,22.30v-1.2M531.74,147.20v1.2M531.74,22.30v-1.2M534.99,147.20v1.2M534.99,22.30v-1.2M537.82,147.20v1.2M537.82,22.30v-1.2M540.31,147.20v1.2M540.31,22.30v-1.2M542.53,147.20v2.0M542.53,22.30v-2.0M557.18,147.20v1.2M557.18,22.30v-1.2M565.75,147.20v1.2M565.75,22.30v-1.2M571.83,147.20v1.2M571.83,22.30v-1.2M576.55,147.20v1.2M576.55,22.30v-1.2M580.40,147.20v1.2M580.40,22.30v-1.2M583.66,147.20v1.2M583.66,22.30v-1.2M586.48,147.20v1.2M586.48,22.30v-1.2M588.97,147.20v1.2M588.97,22.30v-1.2M591.20,147.20v2.0M591.20,22.30v-2.0M445.20,147.20h-2.0M591.20,147.20h2.0M445.20,141.83h-1.2M591.20,141.83h1.2M445.20,138.69h-1.2M591.20,138.69h1.2M445.20,136.46h-1.2M591.20,136.46h1.2M445.20,134.73h-1.2M591.20,134.73h1.2M445.20,133.32h-1.2M591.20,133.32h1.2M445.20,132.12h-1.2M591.20,132.12h1.2M445.20,131.09h-1.2M591.20,131.09h1.2M445.20,130.17h-1.2M591.20,130.17h1.2M445.20,129.36h-2.0M591.20,129.36h2.0M445.20,123.99h-1.2M591.20,123.99h1.2M445.20,120.84h-1.2M591.20,120.84h1.2M445.20,118.61h-1.2M591.20,118.61h1.2M445.20,116.89h-1.2M591.20,116.89h1.2M445.20,115.47h-1.2M591.20,115.47h1.2M445.20,114.28h-1.2M591.20,114.28h1.2M445.20,113.24h-1.2M591.20,113.24h1.2M445.20,112.33h-1.2M591.20,112.33h1.2M445.20,111.51h-2.0M591.20,111.51h2.0M445.20,106.14h-1.2M591.20,106.14h1.2M445.20,103.00h-1.2M591.20,103.00h1.2M445.20,100.77h-1.2M591.20,100.77h1.2M445.20,99.04h-1.2M591.20,99.04h1.2M445.20,97.63h-1.2M591.20,97.63h1.2M445.20,96.44h-1.2M591.20,96.44h1.2M445.20,95.40h-1.2M591.20,95.40h1.2M445.20,94.49h-1.2M591.20,94.49h1.2M445.20,93.67h-2.0M591.20,93.67h2.0M445.20,88.30h-1.2M591.20,88.30h1.2M445.20,85.16h-1.2M591.20,85.16h1.2M445.20,82.93h-1.2M591.20,82.93h1.2M445.20,81.20h-1.2M591.20,81.20h1.2M445.20,79.79h-1.2M591.20,79.79h1.2M445.20,78.59h-1.2M591.20,78.59h1.2M445.20,77.56h-1.2M591.20,77.56h1.2M445.20,76.65h-1.2M591.20,76.65h1.2M445.20,75.83h-2.0M591.20,75.83h2.0M445.20,70.46h-1.2M591.20,70.46h1.2M445.20,67.32h-1.2M591.20,67.32h1.2M445.20,65.09h-1.2M591.20,65.09h1.2M445.20,63.36h-1.2M591.20,63.36h1.2M445.20,61.94h-1.2M591.20,61.94h1.2M445.20,60.75h-1.2M591.20,60.75h1.2M445.20,59.71h-1.2M591.20,59.71h1.2M445.20,58.80h-1.2M591.20,58.80h1.2M445.20,57.99h-2.0M591.20,57.99h2.0M445.20,52.61h-1.2M591.20,52.61h1.2M445.20,49.47h-1.2M591.20,49.47h1.2M445.20,47.24h-1.2M591.20,47.24h1.2M445.20,45.51h-1.2M591.20,45.51h1.2M445.20,44.10h-1.2M591.20,44.10h1.2M445.20,42.91h-1.2M591.20,42.91h1.2M445.20,41.87h-1.2M591.20,41.87h1.2M445.20,40.96h-1.2M591.20,40.96h1.2M445.20,40.14h-2.0M591.20,40.14h2.0M445.20,34.77h-1.2M591.20,34.77h1.2M445.20,31.63h-1.2M591.20,31.63h1.2M445.20,29.40h-1.2M591.20,29.40h1.2M445.20,27.67h-1.2M591.20,27.67h1.2M445.20,26.26h-1.2M591.20,26.26h1.2M445.20,25.06h-1.2M591.20,25.06h1.2M445.20,24.03h-1.2M591.20,24.03h1.2M445.20,23.12h-1.2M591.20,23.12h1.2M445.20,22.30h-2.0M591.20,22.30h2.0" stroke="#262626" stroke-width="0.6" fill="none"/>
<rect x="445.20" y="22.30" width="146.00" height="124.90" fill="none" stroke="#262626" stroke-width="0.7"/>
<text x="423.59" y="152.55" font-size="9.8" fill="#262626">10<tspan font-size="8.00" dy="-4.6">-4</tspan></text>
<text x="423.59" y="134.71" font-size="9.8" fill="#262626">10<tspan font-size="8.00" dy="-4.6">-3</tspan></text>
<text x="423.59" y="116.86" font-size="9.8" fill="#262626">10<tspan font-size="8.00" dy="-4.6">-2</tspan></text>
<text x="423.59" y="99.02" font-size="9.8" fill="#262626">10<tspan font-size="8.00" dy="-4.6">-1</tspan></text>
<text x="426.25" y="81.18" font-size="9.8" fill="#262626">10<tspan font-size="8.00" dy="-4.6">0</tspan></text>
<text x="426.25" y="63.34" font-size="9.8" fill="#262626">10<tspan font-size="8.00" dy="-4.6">1</tspan></text>
<text x="426.25" y="45.49" font-size="9.8" fill="#262626">10<tspan font-size="8.00" dy="-4.6">2</tspan></text>
<text x="426.25" y="27.65" font-size="9.8" fill="#262626">10<tspan font-size="8.00" dy="-4.6">3</tspan></text>
<text x="436.70" y="163.80" font-size="9.8" fill="#262626">10<tspan font-size="8.00" dy="-5.0">-2</tspan></text>
<text x="485.36" y="163.80" font-size="9.8" fill="#262626">10<tspan font-size="8.00" dy="-5.0">-1</tspan></text>
<text x="535.36" y="163.80" font-size="9.8" fill="#262626">10<tspan font-size="8.00" dy="-5.0">0</tspan></text>
<text x="584.03" y="163.80" font-size="9.8" fill="#262626">10<tspan font-size="8.00" dy="-5.0">1</tspan></text>
<text x="517.20" y="176.50" font-size="10.8" font-style="italic" fill="#262626" text-anchor="middle">La<tspan font-size="9" dy="5">t</tspan></text>
<text x="0" y="0" font-size="10.8" font-style="italic" fill="#262626" text-anchor="middle" transform="translate(414.60,84.75) rotate(-90)">h/L<tspan font-size="9" dy="5">L</tspan></text>
<text x="518.20" y="14.20" font-size="11" fill="#111" text-anchor="middle"><tspan font-style="italic">h/L</tspan><tspan font-style="italic" font-size="8.8" dy="5.5">s</tspan><tspan dy="-5.5"> = 50</tspan></text>
<text x="418.00" y="11.00" font-size="13.8" font-weight="bold" fill="#000">c</text>
<g clip-path="url(#c01)">
<rect x="39.5" y="245.45" width="146.0" height="125.95" fill="#505C8C"/>
<path d="M67.60,245.45 L185.50,245.45 L185.50,294.00 C182.33,294.13 180.08,293.87 176.00,294.40 C171.92,294.93 166.27,296.00 161.00,297.20 C155.73,298.40 149.02,299.93 144.40,301.60 C139.78,303.27 136.15,305.60 133.30,307.20 C130.45,308.80 129.30,309.87 127.30,311.20 C125.97,309.40 124.75,307.70 123.30,305.80 C121.85,303.90 120.50,302.15 118.60,299.80 C116.70,297.45 114.15,294.17 111.90,291.70 C109.65,289.23 109.38,289.45 105.10,285.00 C100.82,280.55 92.45,271.59 86.20,265.00 C79.95,258.41 73.80,251.97 67.60,245.45 Z" fill="#F3682D" stroke="#8c8c8c" stroke-width="0.45" stroke-linejoin="round"/>
<path d="M135.00,371.40 C135.00,358.27 135.13,339.57 135.00,332.00 C134.87,324.43 134.78,327.45 134.20,326.00 C133.62,324.55 132.40,324.20 131.50,323.30 C135.80,323.10 139.48,323.20 144.40,322.70 C149.32,322.20 155.73,321.08 161.00,320.30 C166.27,319.52 171.92,318.48 176.00,318.00 C180.08,317.52 182.33,317.60 185.50,317.40 L185.50,371.40 L135.00,371.40 Z" fill="#CD4819" stroke="#8c8c8c" stroke-width="0.45" stroke-linejoin="round"/>
<path d="M127.30,311.20 C129.30,309.87 130.45,308.80 133.30,307.20 C136.15,305.60 139.78,303.27 144.40,301.60 C149.02,299.93 155.73,298.40 161.00,297.20 C166.27,296.00 171.92,294.93 176.00,294.40 C180.08,293.87 182.33,294.13 185.50,294.00 L185.50,317.40 C182.33,317.60 180.08,317.52 176.00,318.00 C171.92,318.48 166.27,319.52 161.00,320.30 C155.73,321.08 149.32,322.20 144.40,322.70 C139.48,323.20 135.80,323.10 131.50,323.30 C130.93,321.20 130.50,319.02 129.80,317.00 C129.10,314.98 128.13,313.13 127.30,311.20 Z" fill="#A01C32" stroke="#8c8c8c" stroke-width="0.45" stroke-linejoin="round"/>
<path d="M45.20,245.45 L67.60,245.45 C73.80,251.97 79.95,258.41 86.20,265.00 C92.45,271.59 100.82,280.55 105.10,285.00 C109.38,289.45 109.65,289.23 111.90,291.70 C114.15,294.17 116.70,297.45 118.60,299.80 C120.50,302.15 121.85,303.90 123.30,305.80 C124.75,307.70 125.97,309.40 127.30,311.20 L124.00,321.30 C123.77,321.07 124.20,321.28 123.30,320.60 C122.40,319.92 120.50,318.65 118.60,317.20 C116.70,315.75 114.15,313.68 111.90,311.90 C109.65,310.12 107.35,308.52 105.10,306.50 C102.85,304.48 100.63,302.03 98.40,299.80 C96.17,297.57 93.93,295.23 91.70,293.10 C89.47,290.97 89.45,291.48 85.00,287.00 C80.55,282.52 71.63,273.12 65.00,266.20 C58.37,259.27 51.80,252.37 45.20,245.45 Z" fill="#E1C391" stroke="#8c8c8c" stroke-width="0.45" stroke-linejoin="round"/>
<path d="M120.40,371.40 C120.47,364.27 120.47,356.07 120.60,350.00 C120.73,343.93 120.97,338.67 121.20,335.00 C121.43,331.33 121.53,330.28 122.00,328.00 C122.47,325.72 123.33,323.53 124.00,321.30 L131.50,323.30 C132.40,324.20 133.62,324.55 134.20,326.00 C134.78,327.45 134.87,324.43 135.00,332.00 C135.13,339.57 135.00,358.27 135.00,371.40 L120.40,371.40 Z" fill="#E1F064" stroke="#8c8c8c" stroke-width="0.45" stroke-linejoin="round"/>
<path d="M127.3,311.2 Q129.8,316.5 131.5,323.3 Q127.8,322.2 124.0,321.3 Z" fill="#E4E6E6" stroke="#8c8c8c" stroke-width="0.45"/>
<path d="M108.63,283.71 C110.37,283.47 114.34,283.47 116.24,283.71 C118.14,283.94 122.10,284.74 123.85,285.61 C125.59,286.48 128.76,289.41 130.19,290.68 C131.61,291.95 134.47,294.33 135.26,295.75 C136.05,297.18 136.13,300.67 136.53,302.09 C136.92,303.52 137.87,305.90 138.43,307.17 C138.98,308.43 140.65,311.13 140.97,312.24 C141.28,313.35 141.20,315.09 140.97,316.04 C140.73,316.99 139.62,319.05 139.06,319.85 C138.51,320.64 137.00,321.43 136.53,322.38 C136.05,323.33 135.58,326.19 135.26,327.45 C134.94,328.72 134.39,331.26 133.99,332.53 C133.59,333.80 132.56,336.33 132.09,337.60 C131.61,338.87 130.74,341.40 130.19,342.67 C129.63,343.94 128.28,346.48 127.65,347.74 C127.02,349.01 126.07,351.63 125.11,352.82 C124.16,354.00 121.23,356.62 120.04,357.25 C118.85,357.89 116.71,358.05 115.60,357.89 C114.49,357.73 112.20,356.78 111.17,355.99 C110.14,355.19 108.31,352.58 107.36,351.55 C106.41,350.52 104.51,348.85 103.56,347.74 C102.61,346.63 100.70,344.10 99.75,342.67 C98.80,341.24 96.90,337.92 95.95,336.33 C95.00,334.75 93.02,331.73 92.14,329.99 C91.27,328.25 89.61,324.28 88.97,322.38 C88.34,320.48 87.39,316.20 87.07,314.77 C86.76,313.35 86.28,312.08 86.44,310.97 C86.60,309.86 88.02,307.17 88.34,305.90 C88.66,304.63 88.50,302.09 88.97,300.83 C89.45,299.56 91.11,297.18 92.14,295.75 C93.17,294.33 95.95,290.68 97.22,289.41 C98.48,288.14 100.86,286.32 102.29,285.61 C103.72,284.90 106.89,283.94 108.63,283.71 Z" fill="none" stroke="#fff" stroke-width="1.2" stroke-linejoin="round"/>
<path d="M112.43,291.31 C114.18,291.00 117.35,290.92 118.77,291.31 C120.20,291.71 122.97,293.45 123.85,294.48 C124.72,295.52 125.43,298.29 125.75,299.56 C126.07,300.83 126.46,303.36 126.38,304.63 C126.30,305.90 125.19,308.43 125.11,309.70 C125.04,310.97 125.83,313.51 125.75,314.77 C125.67,316.04 124.88,318.42 124.48,319.85 C124.08,321.27 123.05,324.76 122.58,326.19 C122.10,327.61 121.15,329.99 120.68,331.26 C120.20,332.53 119.33,335.38 118.77,336.33 C118.22,337.28 117.03,338.39 116.24,338.87 C115.45,339.34 113.38,340.14 112.43,340.14 C111.48,340.14 109.58,339.50 108.63,338.87 C107.68,338.23 105.70,336.17 104.83,335.06 C103.95,333.95 102.45,331.26 101.66,329.99 C100.86,328.72 99.12,326.50 98.48,324.92 C97.85,323.33 96.90,319.05 96.58,317.31 C96.27,315.57 95.87,312.55 95.95,310.97 C96.03,309.38 96.74,306.21 97.22,304.63 C97.69,303.04 98.80,299.64 99.75,298.29 C100.70,296.94 103.24,294.72 104.83,293.85 C106.41,292.98 110.69,291.63 112.43,291.31 Z" fill="none" stroke="#fff" stroke-width="1.2" stroke-linejoin="round"/>
<path d="M108.63,302.09 C109.74,301.78 114.81,301.78 116.24,302.09 C117.66,302.41 119.25,303.68 120.04,304.63 C120.83,305.58 122.50,308.43 122.58,309.70 C122.66,310.97 121.15,313.43 120.68,314.77 C120.20,316.12 119.49,319.69 118.77,320.48 C118.06,321.27 116.08,321.11 114.97,321.11 C113.86,321.11 110.93,320.96 109.90,320.48 C108.87,320.00 107.36,318.18 106.73,317.31 C106.09,316.44 104.83,314.62 104.83,313.51 C104.83,312.40 106.41,309.54 106.73,308.43 C107.04,307.32 107.12,305.42 107.36,304.63 C107.60,303.84 107.52,302.41 108.63,302.09 Z" fill="none" stroke="#fff" stroke-width="1.2" stroke-linejoin="round"/>
</g>
<rect x="85.80" y="247.60" width="86.20" height="14.80" fill="#fff"/>
<text x="128.70" y="257.90" font-size="10" text-anchor="middle" fill="#000">Geostrophic shear</text>
<rect x="41.90" y="353.00" width="47.20" height="13.80" fill="#fff"/>
<text x="43.60" y="363.40" font-size="10" text-anchor="start" fill="#000">Langmuir</text>
<rect x="136.60" y="341.60" width="43.30" height="14.00" fill="#fff"/>
<rect x="149.30" y="355.40" width="24.50" height="10.70" fill="#fff"/>
<text x="158.25" y="351.60" font-size="7.0" text-anchor="middle" fill="#000">Ageostrophic</text>
<text x="161.55" y="361.30" font-size="7.0" text-anchor="middle" fill="#000">shear</text>
<path d="M39.50,371.40v2.0M39.50,245.45v-2.0M54.15,371.40v1.2M54.15,245.45v-1.2M62.72,371.40v1.2M62.72,245.45v-1.2M68.80,371.40v1.2M68.80,245.45v-1.2M73.52,371.40v1.2M73.52,245.45v-1.2M77.37,371.40v1.2M77.37,245.45v-1.2M80.63,371.40v1.2M80.63,245.45v-1.2M83.45,371.40v1.2M83.45,245.45v-1.2M85.94,371.40v1.2M85.94,245.45v-1.2M88.17,371.40v2.0M88.17,245.45v-2.0M102.82,371.40v1.2M102.82,245.45v-1.2M111.39,371.40v1.2M111.39,245.45v-1.2M117.47,371.40v1.2M117.47,245.45v-1.2M122.18,371.40v1.2M122.18,245.45v-1.2M126.04,371.40v1.2M126.04,245.45v-1.2M129.29,371.40v1.2M129.29,245.45v-1.2M132.12,371.40v1.2M132.12,245.45v-1.2M134.61,371.40v1.2M134.61,245.45v-1.2M136.83,371.40v2.0M136.83,245.45v-2.0M151.48,371.40v1.2M151.48,245.45v-1.2M160.05,371.40v1.2M160.05,245.45v-1.2M166.13,371.40v1.2M166.13,245.45v-1.2M170.85,371.40v1.2M170.85,245.45v-1.2M174.70,371.40v1.2M174.70,245.45v-1.2M177.96,371.40v1.2M177.96,245.45v-1.2M180.78,371.40v1.2M180.78,245.45v-1.2M183.27,371.40v1.2M183.27,245.45v-1.2M185.50,371.40v2.0M185.50,245.45v-2.0M39.50,371.40h-2.0M185.50,371.40h2.0M39.50,363.82h-1.2M185.50,363.82h1.2M39.50,359.38h-1.2M185.50,359.38h1.2M39.50,356.23h-1.2M185.50,356.23h1.2M39.50,353.79h-1.2M185.50,353.79h1.2M39.50,351.80h-1.2M185.50,351.80h1.2M39.50,350.11h-1.2M185.50,350.11h1.2M39.50,348.65h-1.2M185.50,348.65h1.2M39.50,347.36h-1.2M185.50,347.36h1.2M39.50,346.21h-2.0M185.50,346.21h2.0M39.50,338.63h-1.2M185.50,338.63h1.2M39.50,334.19h-1.2M185.50,334.19h1.2M39.50,331.04h-1.2M185.50,331.04h1.2M39.50,328.60h-1.2M185.50,328.60h1.2M39.50,326.61h-1.2M185.50,326.61h1.2M39.50,324.92h-1.2M185.50,324.92h1.2M39.50,323.46h-1.2M185.50,323.46h1.2M39.50,322.17h-1.2M185.50,322.17h1.2M39.50,321.02h-2.0M185.50,321.02h2.0M39.50,313.44h-1.2M185.50,313.44h1.2M39.50,309.00h-1.2M185.50,309.00h1.2M39.50,305.85h-1.2M185.50,305.85h1.2M39.50,303.41h-1.2M185.50,303.41h1.2M39.50,301.42h-1.2M185.50,301.42h1.2M39.50,299.73h-1.2M185.50,299.73h1.2M39.50,298.27h-1.2M185.50,298.27h1.2M39.50,296.98h-1.2M185.50,296.98h1.2M39.50,295.83h-2.0M185.50,295.83h2.0M39.50,288.25h-1.2M185.50,288.25h1.2M39.50,283.81h-1.2M185.50,283.81h1.2M39.50,280.66h-1.2M185.50,280.66h1.2M39.50,278.22h-1.2M185.50,278.22h1.2M39.50,276.23h-1.2M185.50,276.23h1.2M39.50,274.54h-1.2M185.50,274.54h1.2M39.50,273.08h-1.2M185.50,273.08h1.2M39.50,271.79h-1.2M185.50,271.79h1.2M39.50,270.64h-2.0M185.50,270.64h2.0M39.50,263.06h-1.2M185.50,263.06h1.2M39.50,258.62h-1.2M185.50,258.62h1.2M39.50,255.47h-1.2M185.50,255.47h1.2M39.50,253.03h-1.2M185.50,253.03h1.2M39.50,251.04h-1.2M185.50,251.04h1.2M39.50,249.35h-1.2M185.50,249.35h1.2M39.50,247.89h-1.2M185.50,247.89h1.2M39.50,246.60h-1.2M185.50,246.60h1.2M39.50,245.45h-2.0M185.50,245.45h2.0" stroke="#262626" stroke-width="0.6" fill="none"/>
<rect x="39.50" y="245.45" width="146.00" height="125.95" fill="none" stroke="#262626" stroke-width="0.7"/>
<text x="17.89" y="376.75" font-size="9.8" fill="#262626">10<tspan font-size="8.00" dy="-4.6">-2</tspan></text>
<text x="17.89" y="351.56" font-size="9.8" fill="#262626">10<tspan font-size="8.00" dy="-4.6">-1</tspan></text>
<text x="20.55" y="326.37" font-size="9.8" fill="#262626">10<tspan font-size="8.00" dy="-4.6">0</tspan></text>
<text x="20.55" y="301.18" font-size="9.8" fill="#262626">10<tspan font-size="8.00" dy="-4.6">1</tspan></text>
<text x="20.55" y="275.99" font-size="9.8" fill="#262626">10<tspan font-size="8.00" dy="-4.6">2</tspan></text>
<text x="20.55" y="250.80" font-size="9.8" fill="#262626">10<tspan font-size="8.00" dy="-4.6">3</tspan></text>
<text x="31.00" y="388.00" font-size="9.8" fill="#262626">10<tspan font-size="8.00" dy="-5.0">-2</tspan></text>
<text x="79.66" y="388.00" font-size="9.8" fill="#262626">10<tspan font-size="8.00" dy="-5.0">-1</tspan></text>
<text x="129.66" y="388.00" font-size="9.8" fill="#262626">10<tspan font-size="8.00" dy="-5.0">0</tspan></text>
<text x="178.33" y="388.00" font-size="9.8" fill="#262626">10<tspan font-size="8.00" dy="-5.0">1</tspan></text>
<text x="111.50" y="400.70" font-size="10.8" font-style="italic" fill="#262626" text-anchor="middle">La<tspan font-size="9" dy="5">t</tspan></text>
<text x="0" y="0" font-size="10.8" font-style="italic" fill="#262626" text-anchor="middle" transform="translate(8.90,308.43) rotate(-90)">h/L<tspan font-size="9" dy="5">s</tspan></text>
<text x="112.50" y="237.35" font-size="11" fill="#111" text-anchor="middle"><tspan font-style="italic">h/L</tspan><tspan font-style="italic" font-size="8.8" dy="5.5">L</tspan><tspan dy="-5.5"> = 0.1</tspan></text>
<text x="12.30" y="235.85" font-size="13.8" font-weight="bold" fill="#000">d</text>
<g clip-path="url(#c11)">
<rect x="242.4" y="245.45" width="146.0" height="125.95" fill="#6EEBDC"/>
<path d="M270.00,245.45 L388.40,245.45 L388.40,294.00 C384.27,294.13 380.57,293.87 376.00,294.40 C371.43,294.93 366.27,295.62 361.00,297.20 C355.73,298.78 347.68,302.57 344.40,303.90 C341.12,305.23 342.70,304.18 341.30,305.20 C339.90,306.22 337.50,308.38 336.00,310.00 C334.50,311.62 333.53,313.27 332.30,314.90 C331.37,313.10 330.72,311.37 329.50,309.50 C328.28,307.63 326.80,305.85 325.00,303.70 C323.20,301.55 320.93,299.20 318.70,296.60 C316.47,294.00 314.73,291.70 311.60,288.10 C308.47,284.50 304.33,279.65 299.90,275.00 C295.47,270.35 289.98,265.12 285.00,260.20 C280.02,255.27 275.00,250.37 270.00,245.45 Z" fill="#F3682D" stroke="#8c8c8c" stroke-width="0.45" stroke-linejoin="round"/>
<path d="M338.40,371.40 C338.37,359.27 338.45,342.23 338.30,335.00 C338.15,327.77 337.92,329.92 337.50,328.00 C337.08,326.08 336.28,324.57 335.80,323.50 C335.32,322.43 335.00,322.23 334.60,321.60 C336.40,321.73 337.45,321.90 340.00,322.00 C342.55,322.10 343.90,322.82 349.90,322.20 C355.90,321.58 369.58,319.08 376.00,318.30 C382.42,317.52 384.27,317.77 388.40,317.50 L388.40,371.40 L338.40,371.40 Z" fill="#CD4819" stroke="#8c8c8c" stroke-width="0.45" stroke-linejoin="round"/>
<path d="M332.30,314.90 C333.53,313.27 334.50,311.62 336.00,310.00 C337.50,308.38 339.90,306.22 341.30,305.20 C342.70,304.18 341.12,305.23 344.40,303.90 C347.68,302.57 355.73,298.78 361.00,297.20 C366.27,295.62 371.43,294.93 376.00,294.40 C380.57,293.87 384.27,294.13 388.40,294.00 L388.40,317.50 C384.27,317.77 382.42,317.52 376.00,318.30 C369.58,319.08 355.90,321.58 349.90,322.20 C343.90,322.82 342.55,322.10 340.00,322.00 C337.45,321.90 336.40,321.73 334.60,321.60 C334.13,320.40 333.58,319.12 333.20,318.00 C332.82,316.88 332.60,315.93 332.30,314.90 Z" fill="#A01C32" stroke="#8c8c8c" stroke-width="0.45" stroke-linejoin="round"/>
<path d="M263.20,245.45 L270.00,245.45 C275.00,250.37 280.02,255.27 285.00,260.20 C289.98,265.12 295.47,270.35 299.90,275.00 C304.33,279.65 308.47,284.50 311.60,288.10 C314.73,291.70 316.47,294.00 318.70,296.60 C320.93,299.20 323.20,301.55 325.00,303.70 C326.80,305.85 328.28,307.63 329.50,309.50 C330.72,311.37 331.37,313.10 332.30,314.90 L331.40,318.20 C330.27,316.97 329.43,316.17 328.00,314.50 C326.57,312.83 325.08,310.97 322.80,308.20 C320.52,305.43 317.07,301.10 314.30,297.90 C311.53,294.70 309.68,292.65 306.20,289.00 C302.72,285.35 297.77,280.47 293.40,276.00 C289.03,271.53 285.03,267.29 280.00,262.20 C274.97,257.11 268.80,251.03 263.20,245.45 Z" fill="#C832C3" stroke="#8c8c8c" stroke-width="0.45" stroke-linejoin="round"/>
<path d="M255.40,245.45 L263.20,245.45 C268.80,251.03 274.97,257.11 280.00,262.20 C285.03,267.29 289.03,271.53 293.40,276.00 C297.77,280.47 302.72,285.35 306.20,289.00 C309.68,292.65 311.53,294.70 314.30,297.90 C317.07,301.10 320.52,305.43 322.80,308.20 C325.08,310.97 326.57,312.83 328.00,314.50 C329.43,316.17 330.27,316.97 331.40,318.20 C332.00,322.13 332.83,326.37 333.20,330.00 C333.57,333.63 333.53,333.10 333.60,340.00 C333.67,346.90 333.60,360.93 333.60,371.40 L328.60,371.40 C328.60,356.27 328.65,334.48 328.60,326.00 C328.55,317.52 328.60,322.03 328.30,320.50 C328.00,318.97 327.85,318.22 326.80,316.80 C325.75,315.38 323.98,313.98 322.00,312.00 C320.02,310.02 318.58,308.58 314.90,304.90 C311.22,301.22 304.88,294.63 299.90,289.90 C294.92,285.17 289.98,281.35 285.00,276.50 C280.02,271.65 274.93,265.98 270.00,260.80 C265.07,255.62 260.27,250.57 255.40,245.45 Z" fill="#E4E6E6" stroke="#8c8c8c" stroke-width="0.45" stroke-linejoin="round"/>
<path d="M333.60,371.40 C333.60,360.93 333.67,346.90 333.60,340.00 C333.53,333.10 333.43,332.67 333.20,330.00 C332.97,327.33 332.50,325.97 332.20,324.00 C331.90,322.03 331.67,320.13 331.40,318.20 C332.00,318.63 332.67,318.93 333.20,319.50 C333.73,320.07 334.13,320.90 334.60,321.60 C335.00,322.23 335.32,322.43 335.80,323.50 C336.28,324.57 337.08,326.08 337.50,328.00 C337.92,329.92 338.15,327.77 338.30,335.00 C338.45,342.23 338.37,359.27 338.40,371.40 L333.60,371.40 Z" fill="#C387F0" stroke="#8c8c8c" stroke-width="0.45" stroke-linejoin="round"/>
<circle cx="329.9" cy="319.8" r="0.8" fill="#50A8FA"/>
<path d="M310.36,278.17 C312.10,277.85 317.18,278.25 319.24,278.80 C321.30,279.36 325.10,281.66 326.85,282.61 C328.59,283.56 331.76,285.46 333.19,286.41 C334.61,287.36 337.31,288.95 338.26,290.22 C339.21,291.48 340.08,295.29 340.80,296.56 C341.51,297.83 343.41,299.25 343.97,300.36 C344.52,301.47 345.31,304.01 345.23,305.43 C345.15,306.86 344.04,310.35 343.33,311.77 C342.62,313.20 340.32,315.58 339.53,316.85 C338.73,318.11 337.47,320.65 336.99,321.92 C336.52,323.19 336.12,325.72 335.72,326.99 C335.33,328.26 334.61,330.64 333.82,332.06 C333.03,333.49 330.41,337.14 329.38,338.40 C328.35,339.67 326.69,341.34 325.58,342.21 C324.47,343.08 321.77,345.14 320.51,345.38 C319.24,345.62 316.70,344.66 315.43,344.11 C314.17,343.56 311.63,341.97 310.36,340.94 C309.09,339.91 306.56,337.29 305.29,335.87 C304.02,334.44 301.33,331.11 300.22,329.53 C299.11,327.94 297.21,324.93 296.41,323.19 C295.62,321.44 294.27,317.48 293.88,315.58 C293.48,313.68 293.24,309.87 293.24,307.97 C293.24,306.07 293.48,302.26 293.88,300.36 C294.27,298.46 295.62,294.50 296.41,292.75 C297.21,291.01 299.11,287.84 300.22,286.41 C301.33,284.99 304.02,282.37 305.29,281.34 C306.56,280.31 308.62,278.49 310.36,278.17 Z" fill="none" stroke="#fff" stroke-width="1.2" stroke-linejoin="round"/>
<path d="M311.63,286.41 C313.06,286.02 317.65,285.62 319.24,285.78 C320.82,285.94 323.20,286.81 324.31,287.68 C325.42,288.55 327.32,291.56 328.11,292.75 C328.91,293.94 330.10,295.92 330.65,297.19 C331.21,298.46 332.39,301.39 332.55,302.90 C332.71,304.40 332.31,307.81 331.92,309.24 C331.52,310.66 330.02,313.04 329.38,314.31 C328.75,315.58 327.48,318.11 326.85,319.38 C326.21,320.65 325.02,323.19 324.31,324.45 C323.60,325.72 322.09,328.73 321.14,329.53 C320.19,330.32 317.89,330.87 316.70,330.80 C315.51,330.72 312.66,329.69 311.63,328.89 C310.60,328.10 309.17,325.80 308.46,324.45 C307.75,323.11 306.48,319.70 305.92,318.11 C305.37,316.53 304.42,313.20 304.02,311.77 C303.62,310.35 302.99,308.13 302.75,306.70 C302.52,305.28 301.96,301.95 302.12,300.36 C302.28,298.78 303.31,295.45 304.02,294.02 C304.73,292.59 306.87,289.90 307.83,288.95 C308.78,288.00 310.20,286.81 311.63,286.41 Z" fill="none" stroke="#fff" stroke-width="1.2" stroke-linejoin="round"/>
<path d="M311.63,297.83 C312.58,297.19 316.54,296.24 317.97,296.56 C319.40,296.87 322.25,299.41 323.04,300.36 C323.83,301.31 324.23,303.14 324.31,304.17 C324.39,305.20 324.07,307.65 323.68,308.60 C323.28,309.55 321.85,311.14 321.14,311.77 C320.43,312.41 319.00,313.52 317.97,313.68 C316.94,313.83 313.85,313.36 312.90,313.04 C311.95,312.73 310.60,311.93 310.36,311.14 C310.12,310.35 311.00,307.89 311.00,306.70 C311.00,305.51 310.28,302.74 310.36,301.63 C310.44,300.52 310.68,298.46 311.63,297.83 Z" fill="none" stroke="#fff" stroke-width="1.2" stroke-linejoin="round"/>
</g>
<rect x="288.70" y="247.60" width="86.20" height="14.80" fill="#fff"/>
<text x="331.60" y="257.90" font-size="10" text-anchor="middle" fill="#000">Geostrophic shear</text>
<rect x="244.80" y="342.10" width="51.30" height="25.10" fill="#fff"/>
<text x="246.80" y="351.70" font-size="10" text-anchor="start" fill="#000">Langmuir/</text>
<text x="246.60" y="362.60" font-size="10" text-anchor="start" fill="#000">convection</text>
<rect x="339.50" y="341.60" width="43.30" height="14.00" fill="#fff"/>
<rect x="352.20" y="355.40" width="24.50" height="10.70" fill="#fff"/>
<text x="361.15" y="351.60" font-size="7.0" text-anchor="middle" fill="#000">Ageostrophic</text>
<text x="364.45" y="361.30" font-size="7.0" text-anchor="middle" fill="#000">shear</text>
<path d="M242.40,371.40v2.0M242.40,245.45v-2.0M257.05,371.40v1.2M257.05,245.45v-1.2M265.62,371.40v1.2M265.62,245.45v-1.2M271.70,371.40v1.2M271.70,245.45v-1.2M276.42,371.40v1.2M276.42,245.45v-1.2M280.27,371.40v1.2M280.27,245.45v-1.2M283.53,371.40v1.2M283.53,245.45v-1.2M286.35,371.40v1.2M286.35,245.45v-1.2M288.84,371.40v1.2M288.84,245.45v-1.2M291.07,371.40v2.0M291.07,245.45v-2.0M305.72,371.40v1.2M305.72,245.45v-1.2M314.29,371.40v1.2M314.29,245.45v-1.2M320.37,371.40v1.2M320.37,245.45v-1.2M325.08,371.40v1.2M325.08,245.45v-1.2M328.94,371.40v1.2M328.94,245.45v-1.2M332.19,371.40v1.2M332.19,245.45v-1.2M335.02,371.40v1.2M335.02,245.45v-1.2M337.51,371.40v1.2M337.51,245.45v-1.2M339.73,371.40v2.0M339.73,245.45v-2.0M354.38,371.40v1.2M354.38,245.45v-1.2M362.95,371.40v1.2M362.95,245.45v-1.2M369.03,371.40v1.2M369.03,245.45v-1.2M373.75,371.40v1.2M373.75,245.45v-1.2M377.60,371.40v1.2M377.60,245.45v-1.2M380.86,371.40v1.2M380.86,245.45v-1.2M383.68,371.40v1.2M383.68,245.45v-1.2M386.17,371.40v1.2M386.17,245.45v-1.2M388.40,371.40v2.0M388.40,245.45v-2.0M242.40,371.40h-2.0M388.40,371.40h2.0M242.40,363.82h-1.2M388.40,363.82h1.2M242.40,359.38h-1.2M388.40,359.38h1.2M242.40,356.23h-1.2M388.40,356.23h1.2M242.40,353.79h-1.2M388.40,353.79h1.2M242.40,351.80h-1.2M388.40,351.80h1.2M242.40,350.11h-1.2M388.40,350.11h1.2M242.40,348.65h-1.2M388.40,348.65h1.2M242.40,347.36h-1.2M388.40,347.36h1.2M242.40,346.21h-2.0M388.40,346.21h2.0M242.40,338.63h-1.2M388.40,338.63h1.2M242.40,334.19h-1.2M388.40,334.19h1.2M242.40,331.04h-1.2M388.40,331.04h1.2M242.40,328.60h-1.2M388.40,328.60h1.2M242.40,326.61h-1.2M388.40,326.61h1.2M242.40,324.92h-1.2M388.40,324.92h1.2M242.40,323.46h-1.2M388.40,323.46h1.2M242.40,322.17h-1.2M388.40,322.17h1.2M242.40,321.02h-2.0M388.40,321.02h2.0M242.40,313.44h-1.2M388.40,313.44h1.2M242.40,309.00h-1.2M388.40,309.00h1.2M242.40,305.85h-1.2M388.40,305.85h1.2M242.40,303.41h-1.2M388.40,303.41h1.2M242.40,301.42h-1.2M388.40,301.42h1.2M242.40,299.73h-1.2M388.40,299.73h1.2M242.40,298.27h-1.2M388.40,298.27h1.2M242.40,296.98h-1.2M388.40,296.98h1.2M242.40,295.83h-2.0M388.40,295.83h2.0M242.40,288.25h-1.2M388.40,288.25h1.2M242.40,283.81h-1.2M388.40,283.81h1.2M242.40,280.66h-1.2M388.40,280.66h1.2M242.40,278.22h-1.2M388.40,278.22h1.2M242.40,276.23h-1.2M388.40,276.23h1.2M242.40,274.54h-1.2M388.40,274.54h1.2M242.40,273.08h-1.2M388.40,273.08h1.2M242.40,271.79h-1.2M388.40,271.79h1.2M242.40,270.64h-2.0M388.40,270.64h2.0M242.40,263.06h-1.2M388.40,263.06h1.2M242.40,258.62h-1.2M388.40,258.62h1.2M242.40,255.47h-1.2M388.40,255.47h1.2M242.40,253.03h-1.2M388.40,253.03h1.2M242.40,251.04h-1.2M388.40,251.04h1.2M242.40,249.35h-1.2M388.40,249.35h1.2M242.40,247.89h-1.2M388.40,247.89h1.2M242.40,246.60h-1.2M388.40,246.60h1.2M242.40,245.45h-2.0M388.40,245.45h2.0" stroke="#262626" stroke-width="0.6" fill="none"/>
<rect x="242.40" y="245.45" width="146.00" height="125.95" fill="none" stroke="#262626" stroke-width="0.7"/>
<text x="220.79" y="376.75" font-size="9.8" fill="#262626">10<tspan font-size="8.00" dy="-4.6">-2</tspan></text>
<text x="220.79" y="351.56" font-size="9.8" fill="#262626">10<tspan font-size="8.00" dy="-4.6">-1</tspan></text>
<text x="223.45" y="326.37" font-size="9.8" fill="#262626">10<tspan font-size="8.00" dy="-4.6">0</tspan></text>
<text x="223.45" y="301.18" font-size="9.8" fill="#262626">10<tspan font-size="8.00" dy="-4.6">1</tspan></text>
<text x="223.45" y="275.99" font-size="9.8" fill="#262626">10<tspan font-size="8.00" dy="-4.6">2</tspan></text>
<text x="223.45" y="250.80" font-size="9.8" fill="#262626">10<tspan font-size="8.00" dy="-4.6">3</tspan></text>
<text x="233.90" y="388.00" font-size="9.8" fill="#262626">10<tspan font-size="8.00" dy="-5.0">-2</tspan></text>
<text x="282.56" y="388.00" font-size="9.8" fill="#262626">10<tspan font-size="8.00" dy="-5.0">-1</tspan></text>
<text x="332.56" y="388.00" font-size="9.8" fill="#262626">10<tspan font-size="8.00" dy="-5.0">0</tspan></text>
<text x="381.23" y="388.00" font-size="9.8" fill="#262626">10<tspan font-size="8.00" dy="-5.0">1</tspan></text>
<text x="314.40" y="400.70" font-size="10.8" font-style="italic" fill="#262626" text-anchor="middle">La<tspan font-size="9" dy="5">t</tspan></text>
<text x="0" y="0" font-size="10.8" font-style="italic" fill="#262626" text-anchor="middle" transform="translate(211.80,308.43) rotate(-90)">h/L<tspan font-size="9" dy="5">s</tspan></text>
<text x="315.40" y="237.35" font-size="11" fill="#111" text-anchor="middle"><tspan font-style="italic">h/L</tspan><tspan font-style="italic" font-size="8.8" dy="5.5">L</tspan><tspan dy="-5.5"> = 1</tspan></text>
<text x="215.20" y="235.85" font-size="13.8" font-weight="bold" fill="#000">e</text>
<g clip-path="url(#c21)">
<rect x="445.2" y="245.45" width="146.0" height="125.95" fill="#50A8FA"/>
<path d="M500.30,245.45 L591.20,245.45 L591.20,293.90 C587.47,294.13 583.53,294.25 580.00,294.60 C576.47,294.95 573.07,295.47 570.00,296.00 C566.93,296.53 563.78,297.20 561.60,297.80 C559.42,298.40 558.48,298.70 556.90,299.60 C555.32,300.50 553.70,302.00 552.10,303.20 C550.50,301.20 549.30,299.58 547.30,297.20 C545.30,294.82 543.08,292.48 540.10,288.90 C537.12,285.32 532.75,279.83 529.40,275.70 C526.05,271.57 524.85,269.14 520.00,264.10 C515.15,259.06 506.87,251.67 500.30,245.45 Z" fill="#F3682D" stroke="#8c8c8c" stroke-width="0.45" stroke-linejoin="round"/>
<path d="M562.20,371.40 C562.10,358.27 562.13,339.78 561.90,332.00 C561.67,324.22 561.33,327.22 560.80,324.70 C560.27,322.18 559.40,319.50 558.70,316.90 C562.47,317.10 564.58,317.45 570.00,317.50 C575.42,317.55 584.13,317.30 591.20,317.20 L591.20,371.40 L562.20,371.40 Z" fill="#CD4819" stroke="#8c8c8c" stroke-width="0.45" stroke-linejoin="round"/>
<path d="M552.10,303.20 C553.70,302.00 555.32,300.50 556.90,299.60 C558.48,298.70 559.42,298.40 561.60,297.80 C563.78,297.20 566.93,296.53 570.00,296.00 C573.07,295.47 576.47,294.95 580.00,294.60 C583.53,294.25 587.47,294.13 591.20,293.90 L591.20,317.20 C584.13,317.30 575.42,317.55 570.00,317.50 C564.58,317.45 562.47,317.10 558.70,316.90 C557.80,314.43 557.10,311.78 556.00,309.50 C554.90,307.22 553.40,305.30 552.10,303.20 Z" fill="#A01C32" stroke="#8c8c8c" stroke-width="0.45" stroke-linejoin="round"/>
<path d="M478.40,245.45 L500.30,245.45 C506.87,251.67 515.15,259.06 520.00,264.10 C524.85,269.14 526.05,271.57 529.40,275.70 C532.75,279.83 537.12,285.32 540.10,288.90 C543.08,292.48 545.30,294.82 547.30,297.20 C549.30,299.58 550.50,301.20 552.10,303.20 L548.50,312.80 C544.93,310.40 541.88,308.82 537.80,305.60 C533.72,302.38 528.73,297.77 524.00,293.50 C519.27,289.23 514.08,284.75 509.40,280.00 C504.72,275.25 501.07,270.76 495.90,265.00 C490.73,259.24 484.23,251.97 478.40,245.45 Z" fill="#C832C3" stroke="#8c8c8c" stroke-width="0.45" stroke-linejoin="round"/>
<path d="M544.90,371.40 C545.00,358.23 545.02,340.28 545.20,331.90 C545.38,323.52 545.45,324.28 546.00,321.10 C546.55,317.92 547.67,315.57 548.50,312.80 C550.17,313.30 551.80,313.62 553.50,314.30 C555.20,314.98 556.97,316.03 558.70,316.90 C559.40,319.50 560.27,322.18 560.80,324.70 C561.33,327.22 561.67,324.22 561.90,332.00 C562.13,339.78 562.10,358.27 562.20,371.40 L544.90,371.40 Z" fill="#C387F0" stroke="#8c8c8c" stroke-width="0.45" stroke-linejoin="round"/>
<path d="M552.1,303.2 Q556,309.5 558.7,316.9 Q553.5,314.3 548.5,312.8 Z" fill="#E4E6E6" stroke="#8c8c8c" stroke-width="0.45"/>
<path d="M513.88,270.37 C515.52,270.30 520.30,270.60 522.24,270.97 C524.18,271.34 527.46,272.76 529.40,273.36 C531.34,273.96 535.82,275.15 537.76,275.75 C539.70,276.34 543.13,277.39 544.93,278.13 C546.72,278.88 550.45,280.82 552.09,281.72 C553.73,282.61 556.72,284.25 558.06,285.30 C559.40,286.34 561.79,288.88 562.84,290.07 C563.88,291.27 565.82,293.66 566.42,294.85 C567.01,296.04 567.61,298.28 567.61,299.63 C567.61,300.97 566.87,304.25 566.42,305.60 C565.97,306.94 564.78,309.18 564.03,310.37 C563.28,311.57 561.34,313.96 560.45,315.15 C559.55,316.34 557.91,318.73 556.87,319.93 C555.82,321.12 553.28,323.66 552.09,324.70 C550.90,325.75 548.51,327.39 547.31,328.28 C546.12,329.18 543.73,330.97 542.54,331.87 C541.34,332.76 539.10,334.78 537.76,335.45 C536.42,336.12 533.28,337.09 531.79,337.24 C530.30,337.39 527.16,336.87 525.82,336.64 C524.48,336.42 522.24,336.04 521.04,335.45 C519.85,334.85 517.01,332.61 516.27,331.87 C515.52,331.12 515.22,330.22 515.07,329.48 C514.93,328.73 515.82,326.64 515.07,325.90 C514.33,325.15 510.45,324.10 509.10,323.51 C507.76,322.91 505.22,322.01 504.33,321.12 C503.43,320.22 502.54,317.54 501.94,316.34 C501.34,315.15 500.15,312.91 499.55,311.57 C498.96,310.22 497.69,307.09 497.16,305.60 C496.64,304.10 495.75,301.27 495.37,299.63 C495.00,297.99 494.25,294.40 494.18,292.46 C494.10,290.52 494.25,285.90 494.78,284.10 C495.30,282.31 497.16,279.40 498.36,278.13 C499.55,276.87 502.99,274.78 504.33,273.96 C505.67,273.13 507.91,272.01 509.10,271.57 C510.30,271.12 512.24,270.45 513.88,270.37 Z" fill="none" stroke="#fff" stroke-width="1.2" stroke-linejoin="round"/>
<path d="M513.88,278.73 C515.67,277.91 520.30,277.31 522.24,277.54 C524.18,277.76 527.76,279.85 529.40,280.52 C531.04,281.19 533.88,282.24 535.37,282.91 C536.87,283.58 539.85,285.30 541.34,285.90 C542.84,286.49 545.97,287.01 547.31,287.69 C548.66,288.36 551.12,290.22 552.09,291.27 C553.06,292.31 554.70,294.85 555.07,296.04 C555.45,297.24 555.45,299.78 555.07,300.82 C554.70,301.87 552.91,303.36 552.09,304.40 C551.27,305.45 549.40,307.99 548.51,309.18 C547.61,310.37 545.97,312.91 544.93,313.96 C543.88,315.00 541.34,316.79 540.15,317.54 C538.96,318.28 536.57,319.33 535.37,319.93 C534.18,320.52 531.94,322.09 530.60,322.31 C529.25,322.54 525.82,322.01 524.63,321.72 C523.43,321.42 521.94,320.60 521.04,319.93 C520.15,319.25 518.36,317.24 517.46,316.34 C516.57,315.45 514.78,313.66 513.88,312.76 C512.99,311.87 511.19,310.22 510.30,309.18 C509.40,308.13 507.46,305.60 506.72,304.40 C505.97,303.21 504.70,300.97 504.33,299.63 C503.96,298.28 503.58,295.00 503.73,293.66 C503.88,292.31 505.00,290.07 505.52,288.88 C506.04,287.69 506.87,285.37 507.91,284.10 C508.96,282.84 512.09,279.55 513.88,278.73 Z" fill="none" stroke="#fff" stroke-width="1.2" stroke-linejoin="round"/>
<path d="M521.04,289.48 C522.01,289.03 524.48,288.88 525.82,288.88 C527.16,288.88 530.30,289.03 531.79,289.48 C533.28,289.93 536.42,291.64 537.76,292.46 C539.10,293.28 541.94,295.00 542.54,296.04 C543.13,297.09 542.69,299.55 542.54,300.82 C542.39,302.09 541.79,305.00 541.34,306.19 C540.90,307.39 540.00,309.63 538.96,310.37 C537.91,311.12 534.33,312.01 532.99,312.16 C531.64,312.31 529.40,311.72 528.21,311.57 C527.01,311.42 524.33,311.57 523.43,310.97 C522.54,310.37 521.64,307.76 521.04,306.79 C520.45,305.82 519.18,304.10 518.66,303.21 C518.13,302.31 517.16,300.52 516.87,299.63 C516.57,298.73 516.12,296.94 516.27,296.04 C516.42,295.15 517.46,293.28 518.06,292.46 C518.66,291.64 520.07,289.93 521.04,289.48 Z" fill="none" stroke="#fff" stroke-width="1.2" stroke-linejoin="round"/>
</g>
<rect x="513.90" y="247.00" width="67.30" height="13.10" fill="#fff"/>
<text x="547.50" y="255.30" font-size="7.8" text-anchor="middle" fill="#000">Geostrophic shear</text>
<rect x="447.90" y="353.00" width="52.80" height="13.80" fill="#fff"/>
<text x="450.00" y="363.40" font-size="10" text-anchor="start" fill="#000">Convection</text>
<rect x="572.60" y="319.70" width="14.40" height="48.20" fill="#fff"/>
<text x="581.00" y="344.50" font-size="7.5" text-anchor="middle" fill="#000" transform="rotate(90 581.00 344.50)">Ageostrophic</text>
<text x="573.40" y="348.50" font-size="7.5" text-anchor="middle" fill="#000" transform="rotate(90 573.40 348.50)">shear</text>
<path d="M445.20,371.40v2.0M445.20,245.45v-2.0M459.85,371.40v1.2M459.85,245.45v-1.2M468.42,371.40v1.2M468.42,245.45v-1.2M474.50,371.40v1.2M474.50,245.45v-1.2M479.22,371.40v1.2M479.22,245.45v-1.2M483.07,371.40v1.2M483.07,245.45v-1.2M486.33,371.40v1.2M486.33,245.45v-1.2M489.15,371.40v1.2M489.15,245.45v-1.2M491.64,371.40v1.2M491.64,245.45v-1.2M493.87,371.40v2.0M493.87,245.45v-2.0M508.52,371.40v1.2M508.52,245.45v-1.2M517.09,371.40v1.2M517.09,245.45v-1.2M523.17,371.40v1.2M523.17,245.45v-1.2M527.88,371.40v1.2M527.88,245.45v-1.2M531.74,371.40v1.2M531.74,245.45v-1.2M534.99,371.40v1.2M534.99,245.45v-1.2M537.82,371.40v1.2M537.82,245.45v-1.2M540.31,371.40v1.2M540.31,245.45v-1.2M542.53,371.40v2.0M542.53,245.45v-2.0M557.18,371.40v1.2M557.18,245.45v-1.2M565.75,371.40v1.2M565.75,245.45v-1.2M571.83,371.40v1.2M571.83,245.45v-1.2M576.55,371.40v1.2M576.55,245.45v-1.2M580.40,371.40v1.2M580.40,245.45v-1.2M583.66,371.40v1.2M583.66,245.45v-1.2M586.48,371.40v1.2M586.48,245.45v-1.2M588.97,371.40v1.2M588.97,245.45v-1.2M591.20,371.40v2.0M591.20,245.45v-2.0M445.20,371.40h-2.0M591.20,371.40h2.0M445.20,363.82h-1.2M591.20,363.82h1.2M445.20,359.38h-1.2M591.20,359.38h1.2M445.20,356.23h-1.2M591.20,356.23h1.2M445.20,353.79h-1.2M591.20,353.79h1.2M445.20,351.80h-1.2M591.20,351.80h1.2M445.20,350.11h-1.2M591.20,350.11h1.2M445.20,348.65h-1.2M591.20,348.65h1.2M445.20,347.36h-1.2M591.20,347.36h1.2M445.20,346.21h-2.0M591.20,346.21h2.0M445.20,338.63h-1.2M591.20,338.63h1.2M445.20,334.19h-1.2M591.20,334.19h1.2M445.20,331.04h-1.2M591.20,331.04h1.2M445.20,328.60h-1.2M591.20,328.60h1.2M445.20,326.61h-1.2M591.20,326.61h1.2M445.20,324.92h-1.2M591.20,324.92h1.2M445.20,323.46h-1.2M591.20,323.46h1.2M445.20,322.17h-1.2M591.20,322.17h1.2M445.20,321.02h-2.0M591.20,321.02h2.0M445.20,313.44h-1.2M591.20,313.44h1.2M445.20,309.00h-1.2M591.20,309.00h1.2M445.20,305.85h-1.2M591.20,305.85h1.2M445.20,303.41h-1.2M591.20,303.41h1.2M445.20,301.42h-1.2M591.20,301.42h1.2M445.20,299.73h-1.2M591.20,299.73h1.2M445.20,298.27h-1.2M591.20,298.27h1.2M445.20,296.98h-1.2M591.20,296.98h1.2M445.20,295.83h-2.0M591.20,295.83h2.0M445.20,288.25h-1.2M591.20,288.25h1.2M445.20,283.81h-1.2M591.20,283.81h1.2M445.20,280.66h-1.2M591.20,280.66h1.2M445.20,278.22h-1.2M591.20,278.22h1.2M445.20,276.23h-1.2M591.20,276.23h1.2M445.20,274.54h-1.2M591.20,274.54h1.2M445.20,273.08h-1.2M591.20,273.08h1.2M445.20,271.79h-1.2M591.20,271.79h1.2M445.20,270.64h-2.0M591.20,270.64h2.0M445.20,263.06h-1.2M591.20,263.06h1.2M445.20,258.62h-1.2M591.20,258.62h1.2M445.20,255.47h-1.2M591.20,255.47h1.2M445.20,253.03h-1.2M591.20,253.03h1.2M445.20,251.04h-1.2M591.20,251.04h1.2M445.20,249.35h-1.2M591.20,249.35h1.2M445.20,247.89h-1.2M591.20,247.89h1.2M445.20,246.60h-1.2M591.20,246.60h1.2M445.20,245.45h-2.0M591.20,245.45h2.0" stroke="#262626" stroke-width="0.6" fill="none"/>
<rect x="445.20" y="245.45" width="146.00" height="125.95" fill="none" stroke="#262626" stroke-width="0.7"/>
<text x="423.59" y="376.75" font-size="9.8" fill="#262626">10<tspan font-size="8.00" dy="-4.6">-2</tspan></text>
<text x="423.59" y="351.56" font-size="9.8" fill="#262626">10<tspan font-size="8.00" dy="-4.6">-1</tspan></text>
<text x="426.25" y="326.37" font-size="9.8" fill="#262626">10<tspan font-size="8.00" dy="-4.6">0</tspan></text>
<text x="426.25" y="301.18" font-size="9.8" fill="#262626">10<tspan font-size="8.00" dy="-4.6">1</tspan></text>
<text x="426.25" y="275.99" font-size="9.8" fill="#262626">10<tspan font-size="8.00" dy="-4.6">2</tspan></text>
<text x="426.25" y="250.80" font-size="9.8" fill="#262626">10<tspan font-size="8.00" dy="-4.6">3</tspan></text>
<text x="436.70" y="388.00" font-size="9.8" fill="#262626">10<tspan font-size="8.00" dy="-5.0">-2</tspan></text>
<text x="485.36" y="388.00" font-size="9.8" fill="#262626">10<tspan font-size="8.00" dy="-5.0">-1</tspan></text>
<text x="535.36" y="388.00" font-size="9.8" fill="#262626">10<tspan font-size="8.00" dy="-5.0">0</tspan></text>
<text x="584.03" y="388.00" font-size="9.8" fill="#262626">10<tspan font-size="8.00" dy="-5.0">1</tspan></text>
<text x="517.20" y="400.70" font-size="10.8" font-style="italic" fill="#262626" text-anchor="middle">La<tspan font-size="9" dy="5">t</tspan></text>
<text x="0" y="0" font-size="10.8" font-style="italic" fill="#262626" text-anchor="middle" transform="translate(414.60,308.43) rotate(-90)">h/L<tspan font-size="9" dy="5">s</tspan></text>
<text x="518.20" y="237.35" font-size="11" fill="#111" text-anchor="middle"><tspan font-style="italic">h/L</tspan><tspan font-style="italic" font-size="8.8" dy="5.5">L</tspan><tspan dy="-5.5"> = 10</tspan></text>
<text x="418.00" y="235.85" font-size="13.8" font-weight="bold" fill="#000">f</text>
<g clip-path="url(#c02)">
<rect x="39.5" y="468.65" width="146.0" height="125.85" fill="#505C8C"/>
<path d="M39.50,468.65 L138.50,468.65 C136.83,470.77 135.08,472.96 133.50,475.00 C131.92,477.04 130.42,478.90 129.00,480.90 C127.58,482.90 126.30,484.80 125.00,487.00 C123.70,489.20 121.98,492.75 121.20,494.10 C120.42,495.45 120.60,494.77 120.30,495.10 C117.87,494.57 115.55,493.93 113.00,493.50 C110.45,493.07 108.00,492.78 105.00,492.50 C102.00,492.22 105.92,491.97 95.00,491.80 C84.08,491.63 58.00,491.60 39.50,491.50 L39.50,468.65 Z" fill="#F3682D" stroke="#8c8c8c" stroke-width="0.45" stroke-linejoin="round"/>
<path d="M157.60,468.65 L185.50,468.65 L185.50,594.50 L130.40,594.50 C130.37,578.00 130.43,556.53 130.30,545.00 C130.17,533.47 129.83,530.45 129.60,525.30 C129.37,520.15 129.20,517.20 128.90,514.10 C128.60,511.00 128.15,508.62 127.80,506.70 C127.45,504.78 127.13,503.97 126.80,502.60 C128.50,501.13 130.07,500.02 131.90,498.20 C133.73,496.38 135.80,493.88 137.80,491.70 C139.80,489.52 141.78,487.52 143.90,485.10 C146.02,482.68 148.22,479.94 150.50,477.20 C152.78,474.46 155.23,471.50 157.60,468.65 Z" fill="#50A8FA" stroke="#8c8c8c" stroke-width="0.45" stroke-linejoin="round"/>
<path d="M138.50,468.65 L157.60,468.65 C155.23,471.50 152.78,474.46 150.50,477.20 C148.22,479.94 146.02,482.68 143.90,485.10 C141.78,487.52 139.80,489.52 137.80,491.70 C135.80,493.88 133.73,496.38 131.90,498.20 C130.07,500.02 128.50,501.13 126.80,502.60 C125.70,501.23 124.58,499.75 123.50,498.50 C122.42,497.25 121.37,496.23 120.30,495.10 C120.60,494.77 120.42,495.45 121.20,494.10 C121.98,492.75 123.70,489.20 125.00,487.00 C126.30,484.80 127.58,482.90 129.00,480.90 C130.42,478.90 131.92,477.04 133.50,475.00 C135.08,472.96 136.83,470.77 138.50,468.65 Z" fill="#C832C3" stroke="#8c8c8c" stroke-width="0.45" stroke-linejoin="round"/>
<path d="M39.50,491.50 C58.00,491.60 84.08,491.63 95.00,491.80 C105.92,491.97 102.00,492.22 105.00,492.50 C108.00,492.78 110.45,493.07 113.00,493.50 C115.55,493.93 117.87,494.57 120.30,495.10 L114.70,509.60 C111.47,510.43 108.28,511.38 105.00,512.10 C101.72,512.82 105.92,513.42 95.00,513.90 C84.08,514.38 58.00,514.63 39.50,515.00 L39.50,491.50 Z" fill="#E1C391" stroke="#8c8c8c" stroke-width="0.45" stroke-linejoin="round"/>
<path d="M114.70,509.60 C116.57,508.40 118.28,507.17 120.30,506.00 C122.32,504.83 124.63,503.73 126.80,502.60 C127.13,503.97 127.45,504.78 127.80,506.70 C128.15,508.62 128.60,511.00 128.90,514.10 C129.20,517.20 129.37,520.15 129.60,525.30 C129.83,530.45 130.17,533.47 130.30,545.00 C130.43,556.53 130.37,578.00 130.40,594.50 L110.50,594.50 C110.50,578.00 110.47,554.92 110.50,545.00 C110.53,535.08 110.57,538.53 110.70,535.00 C110.83,531.47 111.00,527.03 111.30,523.80 C111.60,520.57 111.93,517.97 112.50,515.60 C113.07,513.23 113.97,511.60 114.70,509.60 Z" fill="#6EEBDC" stroke="#8c8c8c" stroke-width="0.45" stroke-linejoin="round"/>
<path d="M120.3,495.1 Q123.8,498.2 126.8,502.6 Q120.2,505 114.7,509.6 Z" fill="#E4E6E6" stroke="#8c8c8c" stroke-width="0.45"/>
<path d="M55.65,534.42 C55.92,533.69 59.21,531.77 60.76,530.77 C62.31,529.76 66.23,527.48 68.06,526.39 C69.88,525.29 73.53,523.19 75.36,522.01 C77.18,520.82 80.83,517.90 82.66,516.90 C84.48,515.89 88.13,514.62 89.96,513.98 C91.78,513.34 95.61,512.43 97.26,511.79 C98.90,511.15 101.45,509.60 103.09,508.87 C104.74,508.14 108.57,506.68 110.39,505.95 C112.22,505.22 115.87,503.67 117.69,503.03 C119.52,502.39 123.17,501.39 124.99,500.84 C126.82,500.29 130.28,498.98 132.29,498.65 C134.30,498.32 139.41,497.94 141.05,498.21 C142.69,498.49 144.61,499.78 145.43,500.84 C146.25,501.90 147.44,504.85 147.62,506.68 C147.80,508.50 147.16,513.25 146.89,515.44 C146.62,517.63 145.80,522.19 145.43,524.20 C145.07,526.20 144.52,529.67 143.97,531.50 C143.42,533.32 141.78,536.97 141.05,538.80 C140.32,540.62 139.04,544.45 138.13,546.09 C137.22,547.74 134.85,550.47 133.75,551.93 C132.66,553.39 130.47,556.50 129.37,557.77 C128.28,559.05 126.09,561.06 124.99,562.15 C123.90,563.25 121.89,565.62 120.61,566.53 C119.34,567.45 116.42,568.72 114.77,569.45 C113.13,570.18 109.48,571.73 107.47,572.37 C105.47,573.01 100.91,574.29 98.72,574.56 C96.53,574.84 92.15,574.74 89.96,574.56 C87.77,574.38 83.20,573.56 81.20,573.10 C79.19,572.65 75.18,571.73 73.90,570.91 C72.62,570.09 71.71,567.81 70.98,566.53 C70.25,565.26 68.97,562.34 68.06,560.69 C67.15,559.05 64.50,555.22 63.68,553.39 C62.86,551.57 61.85,547.92 61.49,546.09 C61.12,544.27 61.12,539.98 60.76,538.80 C60.39,537.61 59.21,537.15 58.57,536.61 C57.93,536.06 55.38,535.15 55.65,534.42 Z" fill="none" stroke="#fff" stroke-width="1.2" stroke-linejoin="round"/>
<path d="M71.71,540.26 C71.80,538.43 72.44,534.51 73.17,532.96 C73.90,531.41 76.36,528.85 77.55,527.85 C78.73,526.84 81.29,525.38 82.66,524.93 C84.03,524.47 87.04,524.65 88.50,524.20 C89.96,523.74 92.69,522.01 94.34,521.28 C95.98,520.55 99.99,519.09 101.64,518.36 C103.28,517.63 106.01,516.17 107.47,515.44 C108.93,514.71 111.85,513.16 113.31,512.52 C114.77,511.88 117.33,510.69 119.15,510.33 C120.98,509.96 125.91,509.60 127.91,509.60 C129.92,509.60 133.84,509.78 135.21,510.33 C136.58,510.88 138.31,512.79 138.86,513.98 C139.41,515.16 139.68,518.18 139.59,519.82 C139.50,521.46 138.68,525.47 138.13,527.12 C137.58,528.76 135.94,531.50 135.21,532.96 C134.48,534.42 133.20,537.34 132.29,538.80 C131.38,540.26 129.01,543.18 127.91,544.64 C126.82,546.09 124.72,549.20 123.53,550.47 C122.35,551.75 119.70,553.94 118.42,554.85 C117.15,555.77 114.77,557.41 113.31,557.77 C111.85,558.14 108.20,558.05 106.74,557.77 C105.28,557.50 103.00,556.13 101.64,555.58 C100.27,555.04 97.26,553.58 95.80,553.39 C94.34,553.21 91.42,553.85 89.96,554.12 C88.50,554.40 85.67,555.22 84.12,555.58 C82.57,555.95 78.82,557.32 77.55,557.04 C76.27,556.77 74.54,554.58 73.90,553.39 C73.26,552.21 72.71,549.20 72.44,547.55 C72.16,545.91 71.62,542.08 71.71,540.26 Z" fill="none" stroke="#fff" stroke-width="1.2" stroke-linejoin="round"/>
<path d="M93.61,534.12 C94.15,533.39 97.53,531.00 98.72,530.04 C99.90,529.07 102.00,527.30 103.09,526.39 C104.19,525.47 106.20,523.65 107.47,522.74 C108.75,521.82 111.85,519.82 113.31,519.09 C114.77,518.36 117.69,517.17 119.15,516.90 C120.61,516.62 123.72,516.53 124.99,516.90 C126.27,517.26 128.64,518.91 129.37,519.82 C130.10,520.73 130.65,523.10 130.83,524.20 C131.01,525.29 131.01,527.48 130.83,528.58 C130.65,529.67 129.92,531.95 129.37,532.96 C128.82,533.96 127.36,535.69 126.45,536.61 C125.54,537.52 123.17,539.62 122.07,540.26 C120.98,540.89 118.79,541.35 117.69,541.72 C116.60,542.08 114.23,542.63 113.31,543.18 C112.40,543.72 111.31,545.91 110.39,546.09 C109.48,546.28 107.11,545.18 106.01,544.64 C104.92,544.09 102.73,542.45 101.64,541.72 C100.54,540.99 98.17,539.53 97.26,538.80 C96.34,538.07 94.79,536.46 94.34,535.88 C93.88,535.29 93.06,534.85 93.61,534.12 Z" fill="none" stroke="#fff" stroke-width="1.2" stroke-linejoin="round"/>
</g>
<rect x="41.90" y="471.00" width="74.70" height="13.80" fill="#fff"/>
<text x="43.50" y="479.50" font-size="8.6" text-anchor="start" fill="#000">Geostrophic shear</text>
<rect x="41.60" y="577.20" width="45.30" height="13.40" fill="#fff"/>
<text x="43.40" y="586.80" font-size="9.6" text-anchor="start" fill="#000">Langmuir</text>
<rect x="168.40" y="530.00" width="14.40" height="55.10" fill="#fff"/>
<text x="172.30" y="557.40" font-size="9.8" text-anchor="middle" fill="#000" transform="rotate(90 172.30 557.40)">Convection</text>
<path d="M39.50,594.50v2.0M39.50,468.65v-2.0M45.78,594.50v1.2M45.78,468.65v-1.2M49.45,594.50v1.2M49.45,468.65v-1.2M52.06,594.50v1.2M52.06,468.65v-1.2M54.08,594.50v1.2M54.08,468.65v-1.2M55.73,594.50v1.2M55.73,468.65v-1.2M57.13,594.50v1.2M57.13,468.65v-1.2M58.34,594.50v1.2M58.34,468.65v-1.2M59.40,594.50v1.2M59.40,468.65v-1.2M60.36,594.50v2.0M60.36,468.65v-2.0M66.64,594.50v1.2M66.64,468.65v-1.2M70.31,594.50v1.2M70.31,468.65v-1.2M72.91,594.50v1.2M72.91,468.65v-1.2M74.94,594.50v1.2M74.94,468.65v-1.2M76.59,594.50v1.2M76.59,468.65v-1.2M77.98,594.50v1.2M77.98,468.65v-1.2M79.19,594.50v1.2M79.19,468.65v-1.2M80.26,594.50v1.2M80.26,468.65v-1.2M81.21,594.50v2.0M81.21,468.65v-2.0M87.49,594.50v1.2M87.49,468.65v-1.2M91.17,594.50v1.2M91.17,468.65v-1.2M93.77,594.50v1.2M93.77,468.65v-1.2M95.79,594.50v1.2M95.79,468.65v-1.2M97.44,594.50v1.2M97.44,468.65v-1.2M98.84,594.50v1.2M98.84,468.65v-1.2M100.05,594.50v1.2M100.05,468.65v-1.2M101.12,594.50v1.2M101.12,468.65v-1.2M102.07,594.50v2.0M102.07,468.65v-2.0M108.35,594.50v1.2M108.35,468.65v-1.2M112.02,594.50v1.2M112.02,468.65v-1.2M114.63,594.50v1.2M114.63,468.65v-1.2M116.65,594.50v1.2M116.65,468.65v-1.2M118.30,594.50v1.2M118.30,468.65v-1.2M119.70,594.50v1.2M119.70,468.65v-1.2M120.91,594.50v1.2M120.91,468.65v-1.2M121.97,594.50v1.2M121.97,468.65v-1.2M122.93,594.50v2.0M122.93,468.65v-2.0M129.21,594.50v1.2M129.21,468.65v-1.2M132.88,594.50v1.2M132.88,468.65v-1.2M135.49,594.50v1.2M135.49,468.65v-1.2M137.51,594.50v1.2M137.51,468.65v-1.2M139.16,594.50v1.2M139.16,468.65v-1.2M140.55,594.50v1.2M140.55,468.65v-1.2M141.76,594.50v1.2M141.76,468.65v-1.2M142.83,594.50v1.2M142.83,468.65v-1.2M143.79,594.50v2.0M143.79,468.65v-2.0M150.06,594.50v1.2M150.06,468.65v-1.2M153.74,594.50v1.2M153.74,468.65v-1.2M156.34,594.50v1.2M156.34,468.65v-1.2M158.36,594.50v1.2M158.36,468.65v-1.2M160.02,594.50v1.2M160.02,468.65v-1.2M161.41,594.50v1.2M161.41,468.65v-1.2M162.62,594.50v1.2M162.62,468.65v-1.2M163.69,594.50v1.2M163.69,468.65v-1.2M164.64,594.50v2.0M164.64,468.65v-2.0M170.92,594.50v1.2M170.92,468.65v-1.2M174.59,594.50v1.2M174.59,468.65v-1.2M177.20,594.50v1.2M177.20,468.65v-1.2M179.22,594.50v1.2M179.22,468.65v-1.2M180.87,594.50v1.2M180.87,468.65v-1.2M182.27,594.50v1.2M182.27,468.65v-1.2M183.48,594.50v1.2M183.48,468.65v-1.2M184.55,594.50v1.2M184.55,468.65v-1.2M185.50,594.50v2.0M185.50,468.65v-2.0M39.50,594.50h-2.0M185.50,594.50h2.0M39.50,586.92h-1.2M185.50,586.92h1.2M39.50,582.49h-1.2M185.50,582.49h1.2M39.50,579.35h-1.2M185.50,579.35h1.2M39.50,576.91h-1.2M185.50,576.91h1.2M39.50,574.91h-1.2M185.50,574.91h1.2M39.50,573.23h-1.2M185.50,573.23h1.2M39.50,571.77h-1.2M185.50,571.77h1.2M39.50,570.48h-1.2M185.50,570.48h1.2M39.50,569.33h-2.0M185.50,569.33h2.0M39.50,561.75h-1.2M185.50,561.75h1.2M39.50,557.32h-1.2M185.50,557.32h1.2M39.50,554.18h-1.2M185.50,554.18h1.2M39.50,551.74h-1.2M185.50,551.74h1.2M39.50,549.74h-1.2M185.50,549.74h1.2M39.50,548.06h-1.2M185.50,548.06h1.2M39.50,546.60h-1.2M185.50,546.60h1.2M39.50,545.31h-1.2M185.50,545.31h1.2M39.50,544.16h-2.0M185.50,544.16h2.0M39.50,536.58h-1.2M185.50,536.58h1.2M39.50,532.15h-1.2M185.50,532.15h1.2M39.50,529.01h-1.2M185.50,529.01h1.2M39.50,526.57h-1.2M185.50,526.57h1.2M39.50,524.57h-1.2M185.50,524.57h1.2M39.50,522.89h-1.2M185.50,522.89h1.2M39.50,521.43h-1.2M185.50,521.43h1.2M39.50,520.14h-1.2M185.50,520.14h1.2M39.50,518.99h-2.0M185.50,518.99h2.0M39.50,511.41h-1.2M185.50,511.41h1.2M39.50,506.98h-1.2M185.50,506.98h1.2M39.50,503.84h-1.2M185.50,503.84h1.2M39.50,501.40h-1.2M185.50,501.40h1.2M39.50,499.40h-1.2M185.50,499.40h1.2M39.50,497.72h-1.2M185.50,497.72h1.2M39.50,496.26h-1.2M185.50,496.26h1.2M39.50,494.97h-1.2M185.50,494.97h1.2M39.50,493.82h-2.0M185.50,493.82h2.0M39.50,486.24h-1.2M185.50,486.24h1.2M39.50,481.81h-1.2M185.50,481.81h1.2M39.50,478.67h-1.2M185.50,478.67h1.2M39.50,476.23h-1.2M185.50,476.23h1.2M39.50,474.23h-1.2M185.50,474.23h1.2M39.50,472.55h-1.2M185.50,472.55h1.2M39.50,471.09h-1.2M185.50,471.09h1.2M39.50,469.80h-1.2M185.50,469.80h1.2M39.50,468.65h-2.0M185.50,468.65h2.0" stroke="#262626" stroke-width="0.6" fill="none"/>
<rect x="39.50" y="468.65" width="146.00" height="125.85" fill="none" stroke="#262626" stroke-width="0.7"/>
<text x="17.89" y="599.85" font-size="9.8" fill="#262626">10<tspan font-size="8.00" dy="-4.6">-2</tspan></text>
<text x="17.89" y="574.68" font-size="9.8" fill="#262626">10<tspan font-size="8.00" dy="-4.6">-1</tspan></text>
<text x="20.55" y="549.51" font-size="9.8" fill="#262626">10<tspan font-size="8.00" dy="-4.6">0</tspan></text>
<text x="20.55" y="524.34" font-size="9.8" fill="#262626">10<tspan font-size="8.00" dy="-4.6">1</tspan></text>
<text x="20.55" y="499.17" font-size="9.8" fill="#262626">10<tspan font-size="8.00" dy="-4.6">2</tspan></text>
<text x="20.55" y="474.00" font-size="9.8" fill="#262626">10<tspan font-size="8.00" dy="-4.6">3</tspan></text>
<text x="0" y="0" font-size="9.8" fill="#262626" text-anchor="end" transform="translate(48.30,605.70) rotate(-45)">10<tspan font-size="8.0" dy="-5.0">-4</tspan></text>
<text x="0" y="0" font-size="9.8" fill="#262626" text-anchor="end" transform="translate(69.16,605.70) rotate(-45)">10<tspan font-size="8.0" dy="-5.0">-3</tspan></text>
<text x="0" y="0" font-size="9.8" fill="#262626" text-anchor="end" transform="translate(90.01,605.70) rotate(-45)">10<tspan font-size="8.0" dy="-5.0">-2</tspan></text>
<text x="0" y="0" font-size="9.8" fill="#262626" text-anchor="end" transform="translate(110.87,605.70) rotate(-45)">10<tspan font-size="8.0" dy="-5.0">-1</tspan></text>
<text x="0" y="0" font-size="9.8" fill="#262626" text-anchor="end" transform="translate(131.73,605.70) rotate(-45)">10<tspan font-size="8.0" dy="-5.0">0</tspan></text>
<text x="0" y="0" font-size="9.8" fill="#262626" text-anchor="end" transform="translate(152.59,605.70) rotate(-45)">10<tspan font-size="8.0" dy="-5.0">1</tspan></text>
<text x="0" y="0" font-size="9.8" fill="#262626" text-anchor="end" transform="translate(173.44,605.70) rotate(-45)">10<tspan font-size="8.0" dy="-5.0">2</tspan></text>
<text x="0" y="0" font-size="9.8" fill="#262626" text-anchor="end" transform="translate(194.30,605.70) rotate(-45)">10<tspan font-size="8.0" dy="-5.0">3</tspan></text>
<text x="112.00" y="631.60" font-size="10.8" font-style="italic" fill="#262626" text-anchor="middle">h/L<tspan font-size="9" dy="5">L</tspan></text>
<text x="0" y="0" font-size="10.8" font-style="italic" fill="#262626" text-anchor="middle" transform="translate(8.90,531.57) rotate(-90)">h/L<tspan font-size="9" dy="5">s</tspan></text>
<text x="112.50" y="460.55" font-size="11" fill="#111" text-anchor="middle"><tspan font-style="italic">La</tspan><tspan font-style="italic" font-size="8.8" dy="5.5">t</tspan><tspan dy="-5.5"> = 0.1</tspan></text>
<text x="12.30" y="459.25" font-size="13.8" font-weight="bold" fill="#000">g</text>
<g clip-path="url(#c12)">
<rect x="242.4" y="468.65" width="146.0" height="125.85" fill="#505C8C"/>
<path d="M242.40,468.65 L361.20,468.65 C355.80,475.60 350.20,482.74 345.00,489.50 C339.80,496.26 333.58,504.10 330.00,509.20 C326.42,514.30 325.67,516.47 323.50,520.10 C322.47,519.33 321.80,518.42 320.40,517.80 C319.00,517.18 318.50,516.70 315.10,516.40 C311.70,516.10 312.12,516.10 300.00,516.00 C287.88,515.90 261.60,515.87 242.40,515.80 L242.40,468.65 Z" fill="#F3682D" stroke="#8c8c8c" stroke-width="0.45" stroke-linejoin="round"/>
<path d="M380.70,468.65 L388.40,468.65 L388.40,594.50 L331.90,594.50 C331.87,579.67 331.87,558.77 331.80,550.00 C331.73,541.23 331.67,544.93 331.50,541.90 C331.33,538.87 331.18,534.37 330.80,531.80 C330.42,529.23 329.73,528.27 329.20,526.50 C331.13,524.40 333.37,521.72 335.00,520.20 C336.63,518.68 334.83,521.93 339.00,517.40 C343.17,512.87 354.83,499.10 360.00,493.00 C365.17,486.90 366.55,484.86 370.00,480.80 C373.45,476.74 377.13,472.70 380.70,468.65 Z" fill="#50A8FA" stroke="#8c8c8c" stroke-width="0.45" stroke-linejoin="round"/>
<path d="M361.20,468.65 L380.70,468.65 C377.13,472.70 373.45,476.74 370.00,480.80 C366.55,484.86 365.17,486.90 360.00,493.00 C354.83,499.10 343.17,512.87 339.00,517.40 C334.83,521.93 336.63,518.68 335.00,520.20 C333.37,521.72 331.13,524.40 329.20,526.50 C328.30,525.27 327.45,523.87 326.50,522.80 C325.55,521.73 324.50,521.00 323.50,520.10 C325.67,516.47 326.42,514.30 330.00,509.20 C333.58,504.10 339.80,496.26 345.00,489.50 C350.20,482.74 355.80,475.60 361.20,468.65 Z" fill="#C832C3" stroke="#8c8c8c" stroke-width="0.45" stroke-linejoin="round"/>
<path d="M242.40,515.80 C261.60,515.87 287.88,515.90 300.00,516.00 C312.12,516.10 311.70,516.10 315.10,516.40 C318.50,516.70 319.00,517.18 320.40,517.80 C321.80,518.42 322.47,519.33 323.50,520.10 L318.50,532.80 C317.17,533.47 316.25,534.23 314.50,534.80 C312.75,535.37 311.25,535.83 308.00,536.20 C304.75,536.57 305.93,536.75 295.00,537.00 C284.07,537.25 259.93,537.47 242.40,537.70 L242.40,515.80 Z" fill="#E1C391" stroke="#8c8c8c" stroke-width="0.45" stroke-linejoin="round"/>
<path d="M318.50,532.80 C320.33,531.80 322.22,530.85 324.00,529.80 C325.78,528.75 327.47,527.60 329.20,526.50 C329.73,528.27 330.42,529.23 330.80,531.80 C331.18,534.37 331.33,538.87 331.50,541.90 C331.67,544.93 331.73,541.23 331.80,550.00 C331.87,558.77 331.87,579.67 331.90,594.50 L315.30,594.50 C315.33,579.67 315.33,558.43 315.40,550.00 C315.47,541.57 315.52,545.98 315.70,543.90 C315.88,541.82 316.03,539.35 316.50,537.50 C316.97,535.65 317.83,534.37 318.50,532.80 Z" fill="#6EEBDC" stroke="#8c8c8c" stroke-width="0.45" stroke-linejoin="round"/>
<path d="M323.5,520.1 Q326.8,523 329.2,526.5 Q323.8,529 318.5,532.8 Z" fill="#E4E6E6" stroke="#8c8c8c" stroke-width="0.45"/>
<path d="M270.26,543.61 C270.26,541.97 270.91,538.52 271.57,537.04 C272.23,535.57 274.36,533.10 275.51,531.79 C276.66,530.47 279.45,527.52 280.77,526.53 C282.08,525.55 284.71,524.73 286.02,523.91 C287.34,523.08 289.80,520.95 291.28,519.96 C292.76,518.98 296.20,517.01 297.85,516.02 C299.49,515.04 302.77,513.07 304.42,512.08 C306.06,511.10 309.34,509.04 310.99,508.14 C312.63,507.24 315.91,505.59 317.56,504.85 C319.20,504.12 322.48,502.72 324.12,502.23 C325.77,501.73 329.05,500.99 330.69,500.91 C332.34,500.83 335.79,501.16 337.26,501.57 C338.74,501.98 341.45,503.38 342.52,504.20 C343.59,505.02 345.31,506.82 345.80,508.14 C346.30,509.45 346.46,512.90 346.46,514.71 C346.46,516.51 345.97,520.62 345.80,522.59 C345.64,524.56 345.56,528.50 345.15,530.47 C344.74,532.45 343.34,536.22 342.52,538.36 C341.70,540.49 339.40,545.58 338.58,547.56 C337.76,549.53 336.77,552.32 335.95,554.12 C335.13,555.93 333.16,560.37 332.01,562.01 C330.86,563.65 328.23,566.20 326.75,567.26 C325.27,568.33 321.99,570.14 320.18,570.55 C318.38,570.96 314.27,570.79 312.30,570.55 C310.33,570.30 306.22,569.15 304.42,568.58 C302.61,568.00 299.49,566.61 297.85,565.95 C296.20,565.29 292.92,563.65 291.28,563.32 C289.64,562.99 286.19,563.24 284.71,563.32 C283.23,563.40 280.44,564.47 279.45,563.98 C278.47,563.49 277.48,560.45 276.82,559.38 C276.17,558.31 274.85,556.59 274.20,555.44 C273.54,554.29 272.06,551.66 271.57,550.18 C271.08,548.71 270.26,545.26 270.26,543.61 Z" fill="none" stroke="#fff" stroke-width="1.2" stroke-linejoin="round"/>
<path d="M293.25,535.73 C293.33,534.42 294.48,531.79 295.22,530.47 C295.96,529.16 298.18,526.37 299.16,525.22 C300.15,524.07 301.95,522.26 303.10,521.28 C304.25,520.29 307.04,518.32 308.36,517.34 C309.67,516.35 312.14,514.30 313.61,513.39 C315.09,512.49 318.54,510.77 320.18,510.11 C321.83,509.45 325.27,508.22 326.75,508.14 C328.23,508.06 330.78,508.80 332.01,509.45 C333.24,510.11 335.79,512.33 336.61,513.39 C337.43,514.46 338.33,516.68 338.58,517.99 C338.82,519.31 338.74,522.35 338.58,523.91 C338.41,525.47 337.76,528.83 337.26,530.47 C336.77,532.12 335.29,535.40 334.64,537.04 C333.98,538.69 332.67,542.14 332.01,543.61 C331.35,545.09 330.20,547.56 329.38,548.87 C328.56,550.18 326.59,553.14 325.44,554.12 C324.29,555.11 321.66,556.51 320.18,556.75 C318.71,557.00 315.09,556.42 313.61,556.10 C312.14,555.77 309.67,554.86 308.36,554.12 C307.04,553.39 304.42,551.17 303.10,550.18 C301.79,549.20 298.91,547.39 297.85,546.24 C296.78,545.09 295.14,542.30 294.56,540.99 C293.99,539.67 293.17,537.04 293.25,535.73 Z" fill="none" stroke="#fff" stroke-width="1.2" stroke-linejoin="round"/>
<path d="M311.64,530.47 C311.81,529.33 312.38,526.53 312.96,525.22 C313.53,523.91 315.34,520.95 316.24,519.96 C317.14,518.98 319.03,517.75 320.18,517.34 C321.33,516.93 324.29,516.43 325.44,516.68 C326.59,516.93 328.64,518.40 329.38,519.31 C330.12,520.21 331.19,522.51 331.35,523.91 C331.52,525.30 330.94,528.83 330.69,530.47 C330.45,532.12 329.87,535.81 329.38,537.04 C328.89,538.28 327.74,539.75 326.75,540.33 C325.77,540.90 322.73,541.56 321.50,541.64 C320.27,541.73 317.88,541.40 316.90,540.99 C315.91,540.58 314.27,539.18 313.61,538.36 C312.96,537.54 311.89,535.40 311.64,534.42 C311.40,533.43 311.48,531.62 311.64,530.47 Z" fill="none" stroke="#fff" stroke-width="1.2" stroke-linejoin="round"/>
</g>
<rect x="251.30" y="471.00" width="74.30" height="13.80" fill="#fff"/>
<text x="252.90" y="479.50" font-size="8.6" text-anchor="start" fill="#000">Geostrophic shear</text>
<rect x="244.50" y="577.20" width="45.30" height="13.40" fill="#fff"/>
<text x="246.30" y="586.80" font-size="9.6" text-anchor="start" fill="#000">Langmuir</text>
<rect x="371.30" y="530.00" width="14.40" height="55.10" fill="#fff"/>
<text x="375.20" y="557.40" font-size="9.8" text-anchor="middle" fill="#000" transform="rotate(90 375.20 557.40)">Convection</text>
<path d="M242.40,594.50v2.0M242.40,468.65v-2.0M248.68,594.50v1.2M248.68,468.65v-1.2M252.35,594.50v1.2M252.35,468.65v-1.2M254.96,594.50v1.2M254.96,468.65v-1.2M256.98,594.50v1.2M256.98,468.65v-1.2M258.63,594.50v1.2M258.63,468.65v-1.2M260.03,594.50v1.2M260.03,468.65v-1.2M261.24,594.50v1.2M261.24,468.65v-1.2M262.30,594.50v1.2M262.30,468.65v-1.2M263.26,594.50v2.0M263.26,468.65v-2.0M269.54,594.50v1.2M269.54,468.65v-1.2M273.21,594.50v1.2M273.21,468.65v-1.2M275.81,594.50v1.2M275.81,468.65v-1.2M277.84,594.50v1.2M277.84,468.65v-1.2M279.49,594.50v1.2M279.49,468.65v-1.2M280.88,594.50v1.2M280.88,468.65v-1.2M282.09,594.50v1.2M282.09,468.65v-1.2M283.16,594.50v1.2M283.16,468.65v-1.2M284.11,594.50v2.0M284.11,468.65v-2.0M290.39,594.50v1.2M290.39,468.65v-1.2M294.07,594.50v1.2M294.07,468.65v-1.2M296.67,594.50v1.2M296.67,468.65v-1.2M298.69,594.50v1.2M298.69,468.65v-1.2M300.34,594.50v1.2M300.34,468.65v-1.2M301.74,594.50v1.2M301.74,468.65v-1.2M302.95,594.50v1.2M302.95,468.65v-1.2M304.02,594.50v1.2M304.02,468.65v-1.2M304.97,594.50v2.0M304.97,468.65v-2.0M311.25,594.50v1.2M311.25,468.65v-1.2M314.92,594.50v1.2M314.92,468.65v-1.2M317.53,594.50v1.2M317.53,468.65v-1.2M319.55,594.50v1.2M319.55,468.65v-1.2M321.20,594.50v1.2M321.20,468.65v-1.2M322.60,594.50v1.2M322.60,468.65v-1.2M323.81,594.50v1.2M323.81,468.65v-1.2M324.87,594.50v1.2M324.87,468.65v-1.2M325.83,594.50v2.0M325.83,468.65v-2.0M332.11,594.50v1.2M332.11,468.65v-1.2M335.78,594.50v1.2M335.78,468.65v-1.2M338.39,594.50v1.2M338.39,468.65v-1.2M340.41,594.50v1.2M340.41,468.65v-1.2M342.06,594.50v1.2M342.06,468.65v-1.2M343.45,594.50v1.2M343.45,468.65v-1.2M344.66,594.50v1.2M344.66,468.65v-1.2M345.73,594.50v1.2M345.73,468.65v-1.2M346.69,594.50v2.0M346.69,468.65v-2.0M352.96,594.50v1.2M352.96,468.65v-1.2M356.64,594.50v1.2M356.64,468.65v-1.2M359.24,594.50v1.2M359.24,468.65v-1.2M361.26,594.50v1.2M361.26,468.65v-1.2M362.92,594.50v1.2M362.92,468.65v-1.2M364.31,594.50v1.2M364.31,468.65v-1.2M365.52,594.50v1.2M365.52,468.65v-1.2M366.59,594.50v1.2M366.59,468.65v-1.2M367.54,594.50v2.0M367.54,468.65v-2.0M373.82,594.50v1.2M373.82,468.65v-1.2M377.49,594.50v1.2M377.49,468.65v-1.2M380.10,594.50v1.2M380.10,468.65v-1.2M382.12,594.50v1.2M382.12,468.65v-1.2M383.77,594.50v1.2M383.77,468.65v-1.2M385.17,594.50v1.2M385.17,468.65v-1.2M386.38,594.50v1.2M386.38,468.65v-1.2M387.45,594.50v1.2M387.45,468.65v-1.2M388.40,594.50v2.0M388.40,468.65v-2.0M242.40,594.50h-2.0M388.40,594.50h2.0M242.40,586.92h-1.2M388.40,586.92h1.2M242.40,582.49h-1.2M388.40,582.49h1.2M242.40,579.35h-1.2M388.40,579.35h1.2M242.40,576.91h-1.2M388.40,576.91h1.2M242.40,574.91h-1.2M388.40,574.91h1.2M242.40,573.23h-1.2M388.40,573.23h1.2M242.40,571.77h-1.2M388.40,571.77h1.2M242.40,570.48h-1.2M388.40,570.48h1.2M242.40,569.33h-2.0M388.40,569.33h2.0M242.40,561.75h-1.2M388.40,561.75h1.2M242.40,557.32h-1.2M388.40,557.32h1.2M242.40,554.18h-1.2M388.40,554.18h1.2M242.40,551.74h-1.2M388.40,551.74h1.2M242.40,549.74h-1.2M388.40,549.74h1.2M242.40,548.06h-1.2M388.40,548.06h1.2M242.40,546.60h-1.2M388.40,546.60h1.2M242.40,545.31h-1.2M388.40,545.31h1.2M242.40,544.16h-2.0M388.40,544.16h2.0M242.40,536.58h-1.2M388.40,536.58h1.2M242.40,532.15h-1.2M388.40,532.15h1.2M242.40,529.01h-1.2M388.40,529.01h1.2M242.40,526.57h-1.2M388.40,526.57h1.2M242.40,524.57h-1.2M388.40,524.57h1.2M242.40,522.89h-1.2M388.40,522.89h1.2M242.40,521.43h-1.2M388.40,521.43h1.2M242.40,520.14h-1.2M388.40,520.14h1.2M242.40,518.99h-2.0M388.40,518.99h2.0M242.40,511.41h-1.2M388.40,511.41h1.2M242.40,506.98h-1.2M388.40,506.98h1.2M242.40,503.84h-1.2M388.40,503.84h1.2M242.40,501.40h-1.2M388.40,501.40h1.2M242.40,499.40h-1.2M388.40,499.40h1.2M242.40,497.72h-1.2M388.40,497.72h1.2M242.40,496.26h-1.2M388.40,496.26h1.2M242.40,494.97h-1.2M388.40,494.97h1.2M242.40,493.82h-2.0M388.40,493.82h2.0M242.40,486.24h-1.2M388.40,486.24h1.2M242.40,481.81h-1.2M388.40,481.81h1.2M242.40,478.67h-1.2M388.40,478.67h1.2M242.40,476.23h-1.2M388.40,476.23h1.2M242.40,474.23h-1.2M388.40,474.23h1.2M242.40,472.55h-1.2M388.40,472.55h1.2M242.40,471.09h-1.2M388.40,471.09h1.2M242.40,469.80h-1.2M388.40,469.80h1.2M242.40,468.65h-2.0M388.40,468.65h2.0" stroke="#262626" stroke-width="0.6" fill="none"/>
<rect x="242.40" y="468.65" width="146.00" height="125.85" fill="none" stroke="#262626" stroke-width="0.7"/>
<text x="220.79" y="599.85" font-size="9.8" fill="#262626">10<tspan font-size="8.00" dy="-4.6">-2</tspan></text>
<text x="220.79" y="574.68" font-size="9.8" fill="#262626">10<tspan font-size="8.00" dy="-4.6">-1</tspan></text>
<text x="223.45" y="549.51" font-size="9.8" fill="#262626">10<tspan font-size="8.00" dy="-4.6">0</tspan></text>
<text x="223.45" y="524.34" font-size="9.8" fill="#262626">10<tspan font-size="8.00" dy="-4.6">1</tspan></text>
<text x="223.45" y="499.17" font-size="9.8" fill="#262626">10<tspan font-size="8.00" dy="-4.6">2</tspan></text>
<text x="223.45" y="474.00" font-size="9.8" fill="#262626">10<tspan font-size="8.00" dy="-4.6">3</tspan></text>
<text x="0" y="0" font-size="9.8" fill="#262626" text-anchor="end" transform="translate(251.20,605.70) rotate(-45)">10<tspan font-size="8.0" dy="-5.0">-4</tspan></text>
<text x="0" y="0" font-size="9.8" fill="#262626" text-anchor="end" transform="translate(272.06,605.70) rotate(-45)">10<tspan font-size="8.0" dy="-5.0">-3</tspan></text>
<text x="0" y="0" font-size="9.8" fill="#262626" text-anchor="end" transform="translate(292.91,605.70) rotate(-45)">10<tspan font-size="8.0" dy="-5.0">-2</tspan></text>
<text x="0" y="0" font-size="9.8" fill="#262626" text-anchor="end" transform="translate(313.77,605.70) rotate(-45)">10<tspan font-size="8.0" dy="-5.0">-1</tspan></text>
<text x="0" y="0" font-size="9.8" fill="#262626" text-anchor="end" transform="translate(334.63,605.70) rotate(-45)">10<tspan font-size="8.0" dy="-5.0">0</tspan></text>
<text x="0" y="0" font-size="9.8" fill="#262626" text-anchor="end" transform="translate(355.49,605.70) rotate(-45)">10<tspan font-size="8.0" dy="-5.0">1</tspan></text>
<text x="0" y="0" font-size="9.8" fill="#262626" text-anchor="end" transform="translate(376.34,605.70) rotate(-45)">10<tspan font-size="8.0" dy="-5.0">2</tspan></text>
<text x="0" y="0" font-size="9.8" fill="#262626" text-anchor="end" transform="translate(397.20,605.70) rotate(-45)">10<tspan font-size="8.0" dy="-5.0">3</tspan></text>
<text x="314.90" y="631.60" font-size="10.8" font-style="italic" fill="#262626" text-anchor="middle">h/L<tspan font-size="9" dy="5">L</tspan></text>
<text x="0" y="0" font-size="10.8" font-style="italic" fill="#262626" text-anchor="middle" transform="translate(211.80,531.57) rotate(-90)">h/L<tspan font-size="9" dy="5">s</tspan></text>
<text x="315.40" y="460.55" font-size="11" fill="#111" text-anchor="middle"><tspan font-style="italic">La</tspan><tspan font-style="italic" font-size="8.8" dy="5.5">t</tspan><tspan dy="-5.5"> = 0.3</tspan></text>
<text x="215.20" y="459.25" font-size="13.8" font-weight="bold" fill="#000">h</text>
<g clip-path="url(#c22)">
<rect x="445.2" y="468.65" width="146.0" height="125.85" fill="#50A8FA"/>
<path d="M445.20,468.65 L581.40,468.65 C576.60,474.43 570.55,481.61 567.00,486.00 C563.45,490.39 562.23,492.22 560.10,495.00 C557.97,497.78 556.88,498.87 554.20,502.70 C551.52,506.53 546.82,513.17 544.00,518.00 C541.18,522.83 539.20,528.28 537.30,531.70 C535.40,535.12 534.17,536.23 532.60,538.50 C530.97,537.50 530.37,536.50 527.70,535.50 C525.03,534.50 521.22,533.12 516.60,532.50 C511.98,531.88 511.90,531.95 500.00,531.80 C488.10,531.65 463.47,531.67 445.20,531.60 L445.20,468.65 Z" fill="#F3682D" stroke="#8c8c8c" stroke-width="0.45" stroke-linejoin="round"/>
<path d="M445.20,547.60 C463.47,547.60 488.10,547.73 500.00,547.60 C511.90,547.47 511.98,547.37 516.60,546.80 C521.22,546.23 525.33,544.93 527.70,544.20 C530.07,543.47 529.77,543.00 530.80,542.40 C530.07,543.43 529.18,544.07 528.60,545.50 C528.02,546.93 527.57,549.25 527.30,551.00 C527.03,552.75 527.08,548.75 527.00,556.00 C526.92,563.25 526.87,581.67 526.80,594.50 L445.20,594.50 L445.20,547.60 Z" fill="#CD4819" stroke="#8c8c8c" stroke-width="0.45" stroke-linejoin="round"/>
<path d="M445.20,531.60 C463.47,531.67 488.10,531.65 500.00,531.80 C511.90,531.95 511.98,531.88 516.60,532.50 C521.22,533.12 525.03,534.50 527.70,535.50 C530.37,536.50 530.97,537.50 532.60,538.50 L530.80,542.40 C529.77,543.00 530.07,543.47 527.70,544.20 C525.33,544.93 521.22,546.23 516.60,546.80 C511.98,547.37 511.90,547.47 500.00,547.60 C488.10,547.73 463.47,547.60 445.20,547.60 L445.20,531.60 Z" fill="#A01C32" stroke="#8c8c8c" stroke-width="0.45" stroke-linejoin="round"/>
<path d="M581.40,468.65 L591.20,468.65 L591.20,482.10 C584.13,490.33 574.15,501.35 570.00,506.80 C565.85,512.25 569.95,510.25 566.30,514.80 C562.65,519.35 553.22,529.57 548.10,534.10 C542.98,538.63 539.77,539.37 535.60,542.00 C535.00,541.17 534.30,540.08 533.80,539.50 C533.30,538.92 533.00,538.83 532.60,538.50 C534.17,536.23 535.40,535.12 537.30,531.70 C539.20,528.28 541.18,522.83 544.00,518.00 C546.82,513.17 551.52,506.53 554.20,502.70 C556.88,498.87 557.97,497.78 560.10,495.00 C562.23,492.22 563.45,490.39 567.00,486.00 C570.55,481.61 576.60,474.43 581.40,468.65 Z" fill="#C832C3" stroke="#8c8c8c" stroke-width="0.45" stroke-linejoin="round"/>
<path d="M445.20,548.90 C463.47,548.93 489.82,548.95 500.00,549.00 C510.18,549.05 504.17,549.00 506.30,549.20 C508.43,549.40 510.83,549.60 512.80,550.20 C514.77,550.80 516.57,551.70 518.10,552.80 C519.63,553.90 520.90,555.27 522.00,556.80 C523.10,558.33 524.08,560.03 524.70,562.00 C525.32,563.97 525.48,566.10 525.70,568.60 C525.92,571.10 525.95,572.68 526.00,577.00 C526.05,581.32 526.00,588.67 526.00,594.50 L445.20,594.50 L445.20,548.90 Z" fill="#E1F064" stroke="#8c8c8c" stroke-width="0.45" stroke-linejoin="round"/>
<path d="M526.80,594.50 C526.87,581.67 526.92,563.25 527.00,556.00 C527.08,548.75 527.03,552.75 527.30,551.00 C527.57,549.25 528.02,546.93 528.60,545.50 C529.18,544.07 530.07,543.43 530.80,542.40 C531.60,542.20 532.40,541.87 533.20,541.80 C534.00,541.73 534.80,541.93 535.60,542.00 C536.17,542.83 536.82,543.13 537.30,544.50 C537.78,545.87 538.20,547.62 538.50,550.20 C538.80,552.78 539.00,552.62 539.10,560.00 C539.20,567.38 539.10,583.00 539.10,594.50 L526.80,594.50 Z" fill="#C387F0" stroke="#8c8c8c" stroke-width="0.45" stroke-linejoin="round"/>
<path d="M532.6,538.5 Q534.6,540 535.6,542.0 Q533,541.6 530.8,542.4 Z" fill="#E4E6E6" stroke="#8c8c8c" stroke-width="0.45"/>
<path d="M485.26,533.76 C485.50,532.45 488.05,529.24 489.20,527.85 C490.35,526.45 492.97,523.66 494.45,522.59 C495.93,521.52 499.38,520.13 501.02,519.31 C502.66,518.49 505.95,516.76 507.59,516.02 C509.23,515.28 512.68,514.05 514.16,513.39 C515.64,512.74 518.10,511.51 519.42,510.77 C520.73,510.03 523.19,508.22 524.67,507.48 C526.15,506.74 529.76,505.51 531.24,504.85 C532.72,504.20 535.18,502.80 536.50,502.23 C537.81,501.65 540.27,500.42 541.75,500.26 C543.23,500.09 546.84,500.50 548.32,500.91 C549.80,501.32 552.26,502.97 553.58,503.54 C554.89,504.12 557.60,504.77 558.83,505.51 C560.07,506.25 562.61,508.14 563.43,509.45 C564.25,510.77 565.16,514.22 565.40,516.02 C565.65,517.83 565.73,522.10 565.40,523.91 C565.07,525.71 563.60,528.83 562.77,530.47 C561.95,532.12 559.82,535.40 558.83,537.04 C557.85,538.69 555.88,541.97 554.89,543.61 C553.91,545.26 551.94,548.54 550.95,550.18 C549.96,551.83 547.83,555.27 547.01,556.75 C546.19,558.23 545.20,560.86 544.38,562.01 C543.56,563.16 541.59,565.13 540.44,565.95 C539.29,566.77 536.50,568.00 535.18,568.58 C533.87,569.15 531.24,570.22 529.93,570.55 C528.61,570.88 525.99,571.45 524.67,571.21 C523.36,570.96 520.73,569.40 519.42,568.58 C518.10,567.76 515.47,565.38 514.16,564.64 C512.85,563.90 510.22,563.16 508.91,562.67 C507.59,562.17 504.96,561.43 503.65,560.69 C502.34,559.96 499.71,557.49 498.39,556.75 C497.08,556.01 494.12,555.60 493.14,554.78 C492.15,553.96 491.00,551.58 490.51,550.18 C490.02,548.79 489.61,545.09 489.20,543.61 C488.79,542.14 487.72,539.59 487.23,538.36 C486.73,537.13 485.01,535.07 485.26,533.76 Z" fill="none" stroke="#fff" stroke-width="1.2" stroke-linejoin="round"/>
<path d="M502.99,534.42 C503.08,533.60 505.21,531.95 506.28,531.13 C507.35,530.31 510.22,528.75 511.53,527.85 C512.85,526.94 515.80,525.06 516.79,523.91 C517.77,522.76 518.43,519.96 519.42,518.65 C520.40,517.34 523.19,514.54 524.67,513.39 C526.15,512.24 529.60,510.19 531.24,509.45 C532.88,508.71 536.17,507.65 537.81,507.48 C539.45,507.32 542.90,507.89 544.38,508.14 C545.86,508.39 548.32,508.80 549.64,509.45 C550.95,510.11 553.91,512.24 554.89,513.39 C555.88,514.54 557.19,517.17 557.52,518.65 C557.85,520.13 557.85,523.58 557.52,525.22 C557.19,526.86 555.55,530.15 554.89,531.79 C554.23,533.43 553.09,536.72 552.26,538.36 C551.44,540.00 549.31,543.45 548.32,544.93 C547.34,546.41 545.69,549.03 544.38,550.18 C543.07,551.33 539.45,553.39 537.81,554.12 C536.17,554.86 532.88,556.01 531.24,556.10 C529.60,556.18 526.31,555.36 524.67,554.78 C523.03,554.21 519.42,552.40 518.10,551.50 C516.79,550.59 514.82,548.54 514.16,547.56 C513.50,546.57 513.50,544.60 512.85,543.61 C512.19,542.63 509.81,540.41 508.91,539.67 C508.00,538.93 506.36,538.36 505.62,537.70 C504.88,537.04 502.91,535.24 502.99,534.42 Z" fill="none" stroke="#fff" stroke-width="1.2" stroke-linejoin="round"/>
<path d="M525.33,527.19 C525.66,525.71 527.05,522.26 527.96,521.28 C528.86,520.29 531.32,519.72 532.56,519.31 C533.79,518.90 536.50,518.08 537.81,517.99 C539.12,517.91 541.92,518.24 543.07,518.65 C544.22,519.06 546.27,520.29 547.01,521.28 C547.75,522.26 548.98,525.06 548.98,526.53 C548.98,528.01 547.75,531.62 547.01,533.10 C546.27,534.58 544.05,537.37 543.07,538.36 C542.08,539.34 540.11,540.49 539.12,540.99 C538.14,541.48 536.17,542.30 535.18,542.30 C534.20,542.30 532.06,541.64 531.24,540.99 C530.42,540.33 529.35,538.03 528.61,537.04 C527.87,536.06 525.74,534.33 525.33,533.10 C524.92,531.87 525.00,528.67 525.33,527.19 Z" fill="none" stroke="#fff" stroke-width="1.2" stroke-linejoin="round"/>
</g>
<rect x="454.10" y="471.00" width="85.40" height="13.40" fill="#fff"/>
<text x="455.60" y="480.30" font-size="10" text-anchor="start" fill="#000">Geostrophic shear</text>
<rect x="447.90" y="566.80" width="38.90" height="12.50" fill="#fff"/>
<rect x="447.90" y="579.10" width="69.80" height="13.60" fill="#fff"/>
<text x="448.30" y="576.40" font-size="7.8" text-anchor="start" fill="#000">Langmuir/</text>
<text x="448.30" y="588.00" font-size="7.8" text-anchor="start" fill="#000">Ageostrophic shear</text>
<rect x="574.10" y="530.00" width="14.40" height="55.10" fill="#fff"/>
<text x="578.00" y="557.40" font-size="9.8" text-anchor="middle" fill="#000" transform="rotate(90 578.00 557.40)">Convection</text>
<path d="M445.20,594.50v2.0M445.20,468.65v-2.0M451.48,594.50v1.2M451.48,468.65v-1.2M455.15,594.50v1.2M455.15,468.65v-1.2M457.76,594.50v1.2M457.76,468.65v-1.2M459.78,594.50v1.2M459.78,468.65v-1.2M461.43,594.50v1.2M461.43,468.65v-1.2M462.83,594.50v1.2M462.83,468.65v-1.2M464.04,594.50v1.2M464.04,468.65v-1.2M465.10,594.50v1.2M465.10,468.65v-1.2M466.06,594.50v2.0M466.06,468.65v-2.0M472.34,594.50v1.2M472.34,468.65v-1.2M476.01,594.50v1.2M476.01,468.65v-1.2M478.61,594.50v1.2M478.61,468.65v-1.2M480.64,594.50v1.2M480.64,468.65v-1.2M482.29,594.50v1.2M482.29,468.65v-1.2M483.68,594.50v1.2M483.68,468.65v-1.2M484.89,594.50v1.2M484.89,468.65v-1.2M485.96,594.50v1.2M485.96,468.65v-1.2M486.91,594.50v2.0M486.91,468.65v-2.0M493.19,594.50v1.2M493.19,468.65v-1.2M496.87,594.50v1.2M496.87,468.65v-1.2M499.47,594.50v1.2M499.47,468.65v-1.2M501.49,594.50v1.2M501.49,468.65v-1.2M503.14,594.50v1.2M503.14,468.65v-1.2M504.54,594.50v1.2M504.54,468.65v-1.2M505.75,594.50v1.2M505.75,468.65v-1.2M506.82,594.50v1.2M506.82,468.65v-1.2M507.77,594.50v2.0M507.77,468.65v-2.0M514.05,594.50v1.2M514.05,468.65v-1.2M517.72,594.50v1.2M517.72,468.65v-1.2M520.33,594.50v1.2M520.33,468.65v-1.2M522.35,594.50v1.2M522.35,468.65v-1.2M524.00,594.50v1.2M524.00,468.65v-1.2M525.40,594.50v1.2M525.40,468.65v-1.2M526.61,594.50v1.2M526.61,468.65v-1.2M527.67,594.50v1.2M527.67,468.65v-1.2M528.63,594.50v2.0M528.63,468.65v-2.0M534.91,594.50v1.2M534.91,468.65v-1.2M538.58,594.50v1.2M538.58,468.65v-1.2M541.19,594.50v1.2M541.19,468.65v-1.2M543.21,594.50v1.2M543.21,468.65v-1.2M544.86,594.50v1.2M544.86,468.65v-1.2M546.25,594.50v1.2M546.25,468.65v-1.2M547.46,594.50v1.2M547.46,468.65v-1.2M548.53,594.50v1.2M548.53,468.65v-1.2M549.49,594.50v2.0M549.49,468.65v-2.0M555.76,594.50v1.2M555.76,468.65v-1.2M559.44,594.50v1.2M559.44,468.65v-1.2M562.04,594.50v1.2M562.04,468.65v-1.2M564.06,594.50v1.2M564.06,468.65v-1.2M565.72,594.50v1.2M565.72,468.65v-1.2M567.11,594.50v1.2M567.11,468.65v-1.2M568.32,594.50v1.2M568.32,468.65v-1.2M569.39,594.50v1.2M569.39,468.65v-1.2M570.34,594.50v2.0M570.34,468.65v-2.0M576.62,594.50v1.2M576.62,468.65v-1.2M580.29,594.50v1.2M580.29,468.65v-1.2M582.90,594.50v1.2M582.90,468.65v-1.2M584.92,594.50v1.2M584.92,468.65v-1.2M586.57,594.50v1.2M586.57,468.65v-1.2M587.97,594.50v1.2M587.97,468.65v-1.2M589.18,594.50v1.2M589.18,468.65v-1.2M590.25,594.50v1.2M590.25,468.65v-1.2M591.20,594.50v2.0M591.20,468.65v-2.0M445.20,594.50h-2.0M591.20,594.50h2.0M445.20,586.92h-1.2M591.20,586.92h1.2M445.20,582.49h-1.2M591.20,582.49h1.2M445.20,579.35h-1.2M591.20,579.35h1.2M445.20,576.91h-1.2M591.20,576.91h1.2M445.20,574.91h-1.2M591.20,574.91h1.2M445.20,573.23h-1.2M591.20,573.23h1.2M445.20,571.77h-1.2M591.20,571.77h1.2M445.20,570.48h-1.2M591.20,570.48h1.2M445.20,569.33h-2.0M591.20,569.33h2.0M445.20,561.75h-1.2M591.20,561.75h1.2M445.20,557.32h-1.2M591.20,557.32h1.2M445.20,554.18h-1.2M591.20,554.18h1.2M445.20,551.74h-1.2M591.20,551.74h1.2M445.20,549.74h-1.2M591.20,549.74h1.2M445.20,548.06h-1.2M591.20,548.06h1.2M445.20,546.60h-1.2M591.20,546.60h1.2M445.20,545.31h-1.2M591.20,545.31h1.2M445.20,544.16h-2.0M591.20,544.16h2.0M445.20,536.58h-1.2M591.20,536.58h1.2M445.20,532.15h-1.2M591.20,532.15h1.2M445.20,529.01h-1.2M591.20,529.01h1.2M445.20,526.57h-1.2M591.20,526.57h1.2M445.20,524.57h-1.2M591.20,524.57h1.2M445.20,522.89h-1.2M591.20,522.89h1.2M445.20,521.43h-1.2M591.20,521.43h1.2M445.20,520.14h-1.2M591.20,520.14h1.2M445.20,518.99h-2.0M591.20,518.99h2.0M445.20,511.41h-1.2M591.20,511.41h1.2M445.20,506.98h-1.2M591.20,506.98h1.2M445.20,503.84h-1.2M591.20,503.84h1.2M445.20,501.40h-1.2M591.20,501.40h1.2M445.20,499.40h-1.2M591.20,499.40h1.2M445.20,497.72h-1.2M591.20,497.72h1.2M445.20,496.26h-1.2M591.20,496.26h1.2M445.20,494.97h-1.2M591.20,494.97h1.2M445.20,493.82h-2.0M591.20,493.82h2.0M445.20,486.24h-1.2M591.20,486.24h1.2M445.20,481.81h-1.2M591.20,481.81h1.2M445.20,478.67h-1.2M591.20,478.67h1.2M445.20,476.23h-1.2M591.20,476.23h1.2M445.20,474.23h-1.2M591.20,474.23h1.2M445.20,472.55h-1.2M591.20,472.55h1.2M445.20,471.09h-1.2M591.20,471.09h1.2M445.20,469.80h-1.2M591.20,469.80h1.2M445.20,468.65h-2.0M591.20,468.65h2.0" stroke="#262626" stroke-width="0.6" fill="none"/>
<rect x="445.20" y="468.65" width="146.00" height="125.85" fill="none" stroke="#262626" stroke-width="0.7"/>
<text x="423.59" y="599.85" font-size="9.8" fill="#262626">10<tspan font-size="8.00" dy="-4.6">-2</tspan></text>
<text x="423.59" y="574.68" font-size="9.8" fill="#262626">10<tspan font-size="8.00" dy="-4.6">-1</tspan></text>
<text x="426.25" y="549.51" font-size="9.8" fill="#262626">10<tspan font-size="8.00" dy="-4.6">0</tspan></text>
<text x="426.25" y="524.34" font-size="9.8" fill="#262626">10<tspan font-size="8.00" dy="-4.6">1</tspan></text>
<text x="426.25" y="499.17" font-size="9.8" fill="#262626">10<tspan font-size="8.00" dy="-4.6">2</tspan></text>
<text x="426.25" y="474.00" font-size="9.8" fill="#262626">10<tspan font-size="8.00" dy="-4.6">3</tspan></text>
<text x="0" y="0" font-size="9.8" fill="#262626" text-anchor="end" transform="translate(454.00,605.70) rotate(-45)">10<tspan font-size="8.0" dy="-5.0">-4</tspan></text>
<text x="0" y="0" font-size="9.8" fill="#262626" text-anchor="end" transform="translate(474.86,605.70) rotate(-45)">10<tspan font-size="8.0" dy="-5.0">-3</tspan></text>
<text x="0" y="0" font-size="9.8" fill="#262626" text-anchor="end" transform="translate(495.71,605.70) rotate(-45)">10<tspan font-size="8.0" dy="-5.0">-2</tspan></text>
<text x="0" y="0" font-size="9.8" fill="#262626" text-anchor="end" transform="translate(516.57,605.70) rotate(-45)">10<tspan font-size="8.0" dy="-5.0">-1</tspan></text>
<text x="0" y="0" font-size="9.8" fill="#262626" text-anchor="end" transform="translate(537.43,605.70) rotate(-45)">10<tspan font-size="8.0" dy="-5.0">0</tspan></text>
<text x="0" y="0" font-size="9.8" fill="#262626" text-anchor="end" transform="translate(558.29,605.70) rotate(-45)">10<tspan font-size="8.0" dy="-5.0">1</tspan></text>
<text x="0" y="0" font-size="9.8" fill="#262626" text-anchor="end" transform="translate(579.14,605.70) rotate(-45)">10<tspan font-size="8.0" dy="-5.0">2</tspan></text>
<text x="0" y="0" font-size="9.8" fill="#262626" text-anchor="end" transform="translate(600.00,605.70) rotate(-45)">10<tspan font-size="8.0" dy="-5.0">3</tspan></text>
<text x="517.70" y="631.60" font-size="10.8" font-style="italic" fill="#262626" text-anchor="middle">h/L<tspan font-size="9" dy="5">L</tspan></text>
<text x="0" y="0" font-size="10.8" font-style="italic" fill="#262626" text-anchor="middle" transform="translate(414.60,531.57) rotate(-90)">h/L<tspan font-size="9" dy="5">s</tspan></text>
<text x="518.20" y="460.55" font-size="11" fill="#111" text-anchor="middle"><tspan font-style="italic">La</tspan><tspan font-style="italic" font-size="8.8" dy="5.5">t</tspan><tspan dy="-5.5"> = 0.8</tspan></text>
<text x="418.00" y="459.25" font-size="13.8" font-weight="bold" fill="#000">i</text>
<rect x="615.4" y="133.40" width="12.30" height="33.20" fill="#CD4819"/>
<rect x="615.4" y="166.60" width="12.30" height="32.30" fill="#505C8C"/>
<rect x="615.4" y="198.90" width="12.30" height="27.50" fill="#F3682D"/>
<rect x="615.4" y="226.40" width="12.30" height="32.70" fill="#50A8FA"/>
<rect x="615.4" y="259.10" width="12.30" height="32.90" fill="#E1F064"/>
<rect x="615.4" y="292.00" width="12.30" height="32.90" fill="#C387F0"/>
<rect x="615.4" y="324.90" width="12.30" height="32.90" fill="#6EEBDC"/>
<rect x="615.4" y="357.80" width="12.30" height="32.20" fill="#A01C32"/>
<rect x="615.4" y="390.00" width="12.30" height="32.60" fill="#E1C391"/>
<rect x="615.4" y="422.60" width="12.30" height="33.10" fill="#C832C3"/>
<rect x="615.4" y="455.70" width="12.30" height="27.10" fill="#E4E6E6"/>
<rect x="615.4" y="133.4" width="12.30" height="349.40" fill="none" stroke="#3a3a3a" stroke-width="0.7"/>
<path d="M627.70,150.00h-1.2M627.70,182.75h-1.2M627.70,212.65h-1.2M627.70,242.75h-1.2M627.70,275.55h-1.2M627.70,308.45h-1.2M627.70,341.35h-1.2M627.70,373.90h-1.2M627.70,406.30h-1.2M627.70,439.15h-1.2M627.70,469.25h-1.2" stroke="#262626" stroke-width="0.5"/>
<text x="632.8" y="153.60" font-size="9.9" fill="#262626">AGSP</text>
<text x="632.8" y="186.35" font-size="9.9" fill="#262626">LSP</text>
<text x="632.8" y="216.25" font-size="9.9" fill="#262626">GSP</text>
<text x="632.8" y="246.35" font-size="9.9" fill="#262626">VBP</text>
<text x="632.8" y="279.15" font-size="9.9" fill="#262626">AGSP/LSP</text>
<text x="632.8" y="312.05" font-size="9.9" fill="#262626">AGSP/VBP</text>
<text x="632.8" y="344.95" font-size="9.9" fill="#262626">LSP/VBP</text>
<text x="632.8" y="377.50" font-size="9.9" fill="#262626">GSP/AGSP</text>
<text x="632.8" y="409.90" font-size="9.9" fill="#262626">GSP/LSP</text>
<text x="632.8" y="442.75" font-size="9.9" fill="#262626">GSP/VBP</text>
<text x="632.8" y="472.85" font-size="9.9" fill="#262626">MIXED</text>
<line x1="137.0" y1="189.4" x2="485" y2="189.4" stroke="#808080" stroke-width="1.2"/>
<path d="M495.0,189.4 L479.4,183.70000000000002 L483.6,189.4 L479.4,195.1 Z" fill="#5a5a5a"/>
<text x="312.8" y="204.9" font-size="10" fill="#262626" text-anchor="middle">Increasing geostrophic shear (h/L<tspan font-size="7.6" dy="2.8">s</tspan><tspan dy="-2.8">)</tspan></text>
<line x1="137.0" y1="413.1" x2="485" y2="413.1" stroke="#808080" stroke-width="1.2"/>
<path d="M495.0,413.1 L479.4,407.40000000000003 L483.6,413.1 L479.4,418.8 Z" fill="#5a5a5a"/>
<text x="319.5" y="428.7" font-size="10" fill="#262626" text-anchor="middle">Increasing buoyancy convection (h/L<tspan font-size="7.6" dy="2.8">L</tspan><tspan dy="-2.8">)</tspan></text>
<line x1="137.0" y1="646.3" x2="485" y2="646.3" stroke="#808080" stroke-width="1.2"/>
<path d="M495.0,646.3 L479.4,640.5999999999999 L483.6,646.3 L479.4,652.0 Z" fill="#5a5a5a"/>
<text x="319.0" y="664.2" font-size="10" fill="#262626" text-anchor="middle">Increasing wind force (La<tspan font-size="7.6" dy="2.8">t</tspan><tspan dy="-2.8">)</tspan></text>
</svg></body></html>
